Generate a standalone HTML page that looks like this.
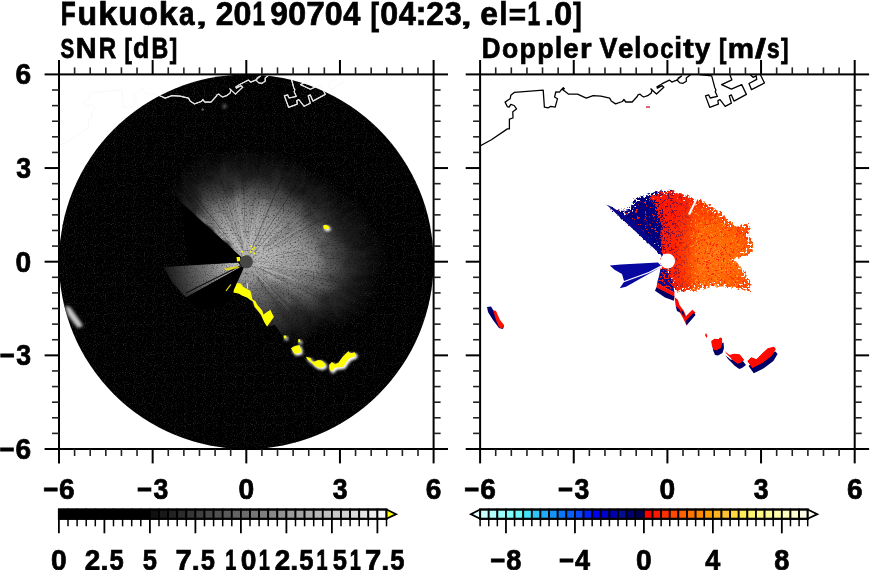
<!DOCTYPE html>
<html><head><meta charset="utf-8"><style>
html,body{margin:0;padding:0;background:#fff;width:870px;height:570px;overflow:hidden}
svg{display:block;will-change:transform}
text{font-family:"Liberation Sans",sans-serif;font-weight:bold;fill:#000}
</style></head><body>
<svg width="870" height="570" viewBox="0 0 870 570">
<defs>
<clipPath id="frameL"><rect x="59" y="74.4" width="374.6" height="374.6"/></clipPath>
<clipPath id="frameR"><rect x="480.1" y="74.4" width="374.6" height="374.6"/></clipPath>
<clipPath id="diskL"><circle cx="246.30" cy="261.75" r="187.30"/></clipPath>
<filter id="speck" x="0" y="0" width="100%" height="100%" color-interpolation-filters="sRGB">
  <feTurbulence type="fractalNoise" baseFrequency="0.9 0.9" numOctaves="1" seed="3" result="t"/>
  <feColorMatrix in="t" type="matrix" values="0 0 0 0 0.16  0 0 0 0 0.16  0 0 0 0 0.16  4 0 0 0 -2.2"/>
</filter>
<filter id="fantex" x="-10%" y="-10%" width="120%" height="120%" color-interpolation-filters="sRGB">
  <feTurbulence type="fractalNoise" baseFrequency="0.06" numOctaves="2" seed="5" result="lt"/>
  <feDisplacementMap in="SourceGraphic" in2="lt" scale="16" xChannelSelector="R" yChannelSelector="G" result="d"/>
  <feGaussianBlur in="d" stdDeviation="1.5" result="b"/>
  <feTurbulence type="fractalNoise" baseFrequency="0.6 0.6" numOctaves="2" seed="11" result="n"/>
  <feColorMatrix in="n" type="matrix" values="1.3 0 0 0 0.35  1.3 0 0 0 0.35  1.3 0 0 0 0.35  0 0 0 0 1" result="nm"/>
  <feComposite in="b" in2="nm" operator="arithmetic" k1="1" k2="0" k3="0" k4="0"/>
</filter>
<filter id="glow" x="-50%" y="-50%" width="200%" height="200%"><feGaussianBlur stdDeviation="1.5"/></filter>
<radialGradient id="fanG" gradientUnits="userSpaceOnUse" cx="276" cy="276" fx="246.30" fy="261.75" r="130">
  <stop offset="0.000" stop-color="#b4b4b4"/>
  <stop offset="0.080" stop-color="#a5a5a5"/>
  <stop offset="0.220" stop-color="#8e8e8e"/>
  <stop offset="0.380" stop-color="#6e6e6e"/>
  <stop offset="0.520" stop-color="#505050"/>
  <stop offset="0.670" stop-color="#343434"/>
  <stop offset="0.820" stop-color="#1a1a1a"/>
  <stop offset="1.000" stop-color="#000000"/>
</radialGradient>
<radialGradient id="spikeG" gradientUnits="userSpaceOnUse" cx="246.30" cy="261.75" r="86">
  <stop offset="0" stop-color="#d0d0d0"/>
  <stop offset="0.2" stop-color="#b0b0b0"/>
  <stop offset="0.5" stop-color="#707070"/>
  <stop offset="0.8" stop-color="#343434"/>
  <stop offset="1" stop-color="#101010"/>
</radialGradient>
<filter id="tex2" x="0" y="0" width="100%" height="100%" color-interpolation-filters="sRGB">
  <feTurbulence type="fractalNoise" baseFrequency="0.9" numOctaves="2" seed="13" result="n"/>
  <feColorMatrix in="n" type="matrix" values="1.3 0 0 0 0.35  1.3 0 0 0 0.35  1.3 0 0 0 0.35  0 0 0 0 1" result="nm"/>
  <feComposite in="SourceGraphic" in2="nm" operator="arithmetic" k1="1" k2="0" k3="0" k4="0"/>
</filter>
<radialGradient id="orG" gradientUnits="userSpaceOnUse" cx="712" cy="258" r="58">
  <stop offset="0" stop-color="#ff7410"/>
  <stop offset="0.5" stop-color="#ff6200"/>
  <stop offset="0.85" stop-color="#ff4400"/>
  <stop offset="1" stop-color="#ff2a00"/>
</radialGradient>
</defs>
<defs><radialGradient id="fw0" gradientUnits="userSpaceOnUse" cx="246.3" cy="261.75" r="72.0"><stop offset="0.000" stop-color="#cdcdcd" stop-opacity="1.000"/><stop offset="0.083" stop-color="#b4b4b4" stop-opacity="1.000"/><stop offset="0.250" stop-color="#828282" stop-opacity="1.000"/><stop offset="0.375" stop-color="#646464" stop-opacity="1.000"/><stop offset="0.458" stop-color="#555555" stop-opacity="1.000"/><stop offset="0.542" stop-color="#444444" stop-opacity="1.000"/><stop offset="0.625" stop-color="#343434" stop-opacity="1.000"/><stop offset="0.708" stop-color="#282828" stop-opacity="0.950"/><stop offset="0.792" stop-color="#282828" stop-opacity="0.650"/><stop offset="0.875" stop-color="#282828" stop-opacity="0.350"/><stop offset="1.000" stop-color="#282828" stop-opacity="0.000"/></radialGradient><radialGradient id="fw1" gradientUnits="userSpaceOnUse" cx="246.3" cy="261.75" r="75.0"><stop offset="0.000" stop-color="#cdcdcd" stop-opacity="1.000"/><stop offset="0.083" stop-color="#b4b4b4" stop-opacity="1.000"/><stop offset="0.250" stop-color="#828282" stop-opacity="1.000"/><stop offset="0.375" stop-color="#646464" stop-opacity="1.000"/><stop offset="0.458" stop-color="#555555" stop-opacity="1.000"/><stop offset="0.542" stop-color="#444444" stop-opacity="1.000"/><stop offset="0.625" stop-color="#343434" stop-opacity="1.000"/><stop offset="0.708" stop-color="#282828" stop-opacity="0.950"/><stop offset="0.792" stop-color="#282828" stop-opacity="0.650"/><stop offset="0.875" stop-color="#282828" stop-opacity="0.350"/><stop offset="1.000" stop-color="#282828" stop-opacity="0.000"/></radialGradient><radialGradient id="fw2" gradientUnits="userSpaceOnUse" cx="246.3" cy="261.75" r="78.3"><stop offset="0.000" stop-color="#cdcdcd" stop-opacity="1.000"/><stop offset="0.083" stop-color="#b4b4b4" stop-opacity="1.000"/><stop offset="0.250" stop-color="#828282" stop-opacity="1.000"/><stop offset="0.375" stop-color="#646464" stop-opacity="1.000"/><stop offset="0.458" stop-color="#555555" stop-opacity="1.000"/><stop offset="0.542" stop-color="#444444" stop-opacity="1.000"/><stop offset="0.625" stop-color="#343434" stop-opacity="1.000"/><stop offset="0.708" stop-color="#282828" stop-opacity="0.950"/><stop offset="0.792" stop-color="#282828" stop-opacity="0.650"/><stop offset="0.875" stop-color="#282828" stop-opacity="0.350"/><stop offset="1.000" stop-color="#282828" stop-opacity="0.000"/></radialGradient><radialGradient id="fw3" gradientUnits="userSpaceOnUse" cx="246.3" cy="261.75" r="81.7"><stop offset="0.000" stop-color="#cdcdcd" stop-opacity="1.000"/><stop offset="0.083" stop-color="#b4b4b4" stop-opacity="1.000"/><stop offset="0.250" stop-color="#828282" stop-opacity="1.000"/><stop offset="0.375" stop-color="#646464" stop-opacity="1.000"/><stop offset="0.458" stop-color="#555555" stop-opacity="1.000"/><stop offset="0.542" stop-color="#444444" stop-opacity="1.000"/><stop offset="0.625" stop-color="#343434" stop-opacity="1.000"/><stop offset="0.708" stop-color="#282828" stop-opacity="0.950"/><stop offset="0.792" stop-color="#282828" stop-opacity="0.650"/><stop offset="0.875" stop-color="#282828" stop-opacity="0.350"/><stop offset="1.000" stop-color="#282828" stop-opacity="0.000"/></radialGradient><radialGradient id="fw4" gradientUnits="userSpaceOnUse" cx="246.3" cy="261.75" r="85.0"><stop offset="0.000" stop-color="#cdcdcd" stop-opacity="1.000"/><stop offset="0.083" stop-color="#b4b4b4" stop-opacity="1.000"/><stop offset="0.250" stop-color="#828282" stop-opacity="1.000"/><stop offset="0.375" stop-color="#646464" stop-opacity="1.000"/><stop offset="0.458" stop-color="#555555" stop-opacity="1.000"/><stop offset="0.542" stop-color="#444444" stop-opacity="1.000"/><stop offset="0.625" stop-color="#343434" stop-opacity="1.000"/><stop offset="0.708" stop-color="#282828" stop-opacity="0.950"/><stop offset="0.792" stop-color="#282828" stop-opacity="0.650"/><stop offset="0.875" stop-color="#282828" stop-opacity="0.350"/><stop offset="1.000" stop-color="#282828" stop-opacity="0.000"/></radialGradient><radialGradient id="fw5" gradientUnits="userSpaceOnUse" cx="246.3" cy="261.75" r="88.3"><stop offset="0.000" stop-color="#cdcdcd" stop-opacity="1.000"/><stop offset="0.083" stop-color="#b4b4b4" stop-opacity="1.000"/><stop offset="0.250" stop-color="#828282" stop-opacity="1.000"/><stop offset="0.375" stop-color="#646464" stop-opacity="1.000"/><stop offset="0.458" stop-color="#555555" stop-opacity="1.000"/><stop offset="0.542" stop-color="#444444" stop-opacity="1.000"/><stop offset="0.625" stop-color="#343434" stop-opacity="1.000"/><stop offset="0.708" stop-color="#282828" stop-opacity="0.950"/><stop offset="0.792" stop-color="#282828" stop-opacity="0.650"/><stop offset="0.875" stop-color="#282828" stop-opacity="0.350"/><stop offset="1.000" stop-color="#282828" stop-opacity="0.000"/></radialGradient><radialGradient id="fw6" gradientUnits="userSpaceOnUse" cx="246.3" cy="261.75" r="90.8"><stop offset="0.000" stop-color="#cdcdcd" stop-opacity="1.000"/><stop offset="0.083" stop-color="#b4b4b4" stop-opacity="1.000"/><stop offset="0.250" stop-color="#828282" stop-opacity="1.000"/><stop offset="0.375" stop-color="#646464" stop-opacity="1.000"/><stop offset="0.458" stop-color="#555555" stop-opacity="1.000"/><stop offset="0.542" stop-color="#444444" stop-opacity="1.000"/><stop offset="0.625" stop-color="#343434" stop-opacity="1.000"/><stop offset="0.708" stop-color="#282828" stop-opacity="0.950"/><stop offset="0.792" stop-color="#282828" stop-opacity="0.650"/><stop offset="0.875" stop-color="#282828" stop-opacity="0.350"/><stop offset="1.000" stop-color="#282828" stop-opacity="0.000"/></radialGradient><radialGradient id="fw7" gradientUnits="userSpaceOnUse" cx="246.3" cy="261.75" r="92.5"><stop offset="0.000" stop-color="#cdcdcd" stop-opacity="1.000"/><stop offset="0.083" stop-color="#b4b4b4" stop-opacity="1.000"/><stop offset="0.250" stop-color="#828282" stop-opacity="1.000"/><stop offset="0.375" stop-color="#646464" stop-opacity="1.000"/><stop offset="0.458" stop-color="#555555" stop-opacity="1.000"/><stop offset="0.542" stop-color="#444444" stop-opacity="1.000"/><stop offset="0.625" stop-color="#343434" stop-opacity="1.000"/><stop offset="0.708" stop-color="#282828" stop-opacity="0.950"/><stop offset="0.792" stop-color="#282828" stop-opacity="0.650"/><stop offset="0.875" stop-color="#282828" stop-opacity="0.350"/><stop offset="1.000" stop-color="#282828" stop-opacity="0.000"/></radialGradient><radialGradient id="fw8" gradientUnits="userSpaceOnUse" cx="246.3" cy="261.75" r="94.2"><stop offset="0.000" stop-color="#cdcdcd" stop-opacity="1.000"/><stop offset="0.083" stop-color="#b4b4b4" stop-opacity="1.000"/><stop offset="0.250" stop-color="#828282" stop-opacity="1.000"/><stop offset="0.375" stop-color="#646464" stop-opacity="1.000"/><stop offset="0.458" stop-color="#555555" stop-opacity="1.000"/><stop offset="0.542" stop-color="#444444" stop-opacity="1.000"/><stop offset="0.625" stop-color="#343434" stop-opacity="1.000"/><stop offset="0.708" stop-color="#282828" stop-opacity="0.950"/><stop offset="0.792" stop-color="#282828" stop-opacity="0.650"/><stop offset="0.875" stop-color="#282828" stop-opacity="0.350"/><stop offset="1.000" stop-color="#282828" stop-opacity="0.000"/></radialGradient><radialGradient id="fw9" gradientUnits="userSpaceOnUse" cx="246.3" cy="261.75" r="95.9"><stop offset="0.000" stop-color="#cdcdcd" stop-opacity="1.000"/><stop offset="0.083" stop-color="#b4b4b4" stop-opacity="1.000"/><stop offset="0.250" stop-color="#828282" stop-opacity="1.000"/><stop offset="0.375" stop-color="#646464" stop-opacity="1.000"/><stop offset="0.458" stop-color="#555555" stop-opacity="1.000"/><stop offset="0.542" stop-color="#444444" stop-opacity="1.000"/><stop offset="0.625" stop-color="#343434" stop-opacity="1.000"/><stop offset="0.708" stop-color="#282828" stop-opacity="0.950"/><stop offset="0.792" stop-color="#282828" stop-opacity="0.650"/><stop offset="0.875" stop-color="#282828" stop-opacity="0.350"/><stop offset="1.000" stop-color="#282828" stop-opacity="0.000"/></radialGradient><radialGradient id="fw10" gradientUnits="userSpaceOnUse" cx="246.3" cy="261.75" r="97.6"><stop offset="0.000" stop-color="#cdcdcd" stop-opacity="1.000"/><stop offset="0.083" stop-color="#b4b4b4" stop-opacity="1.000"/><stop offset="0.250" stop-color="#828282" stop-opacity="1.000"/><stop offset="0.375" stop-color="#646464" stop-opacity="1.000"/><stop offset="0.458" stop-color="#555555" stop-opacity="1.000"/><stop offset="0.542" stop-color="#444444" stop-opacity="1.000"/><stop offset="0.625" stop-color="#343434" stop-opacity="1.000"/><stop offset="0.708" stop-color="#282828" stop-opacity="0.950"/><stop offset="0.792" stop-color="#282828" stop-opacity="0.650"/><stop offset="0.875" stop-color="#282828" stop-opacity="0.350"/><stop offset="1.000" stop-color="#282828" stop-opacity="0.000"/></radialGradient><radialGradient id="fw11" gradientUnits="userSpaceOnUse" cx="246.3" cy="261.75" r="99.0"><stop offset="0.000" stop-color="#cdcdcd" stop-opacity="1.000"/><stop offset="0.083" stop-color="#b4b4b4" stop-opacity="1.000"/><stop offset="0.250" stop-color="#828282" stop-opacity="1.000"/><stop offset="0.375" stop-color="#646464" stop-opacity="1.000"/><stop offset="0.458" stop-color="#555555" stop-opacity="1.000"/><stop offset="0.542" stop-color="#444444" stop-opacity="1.000"/><stop offset="0.625" stop-color="#343434" stop-opacity="1.000"/><stop offset="0.708" stop-color="#282828" stop-opacity="0.950"/><stop offset="0.792" stop-color="#282828" stop-opacity="0.650"/><stop offset="0.875" stop-color="#282828" stop-opacity="0.350"/><stop offset="1.000" stop-color="#282828" stop-opacity="0.000"/></radialGradient><radialGradient id="fw12" gradientUnits="userSpaceOnUse" cx="246.3" cy="261.75" r="100.2"><stop offset="0.000" stop-color="#cdcdcd" stop-opacity="1.000"/><stop offset="0.083" stop-color="#b4b4b4" stop-opacity="1.000"/><stop offset="0.250" stop-color="#828282" stop-opacity="1.000"/><stop offset="0.375" stop-color="#646464" stop-opacity="1.000"/><stop offset="0.458" stop-color="#555555" stop-opacity="1.000"/><stop offset="0.542" stop-color="#444444" stop-opacity="1.000"/><stop offset="0.625" stop-color="#343434" stop-opacity="1.000"/><stop offset="0.708" stop-color="#282828" stop-opacity="0.950"/><stop offset="0.792" stop-color="#282828" stop-opacity="0.650"/><stop offset="0.875" stop-color="#282828" stop-opacity="0.350"/><stop offset="1.000" stop-color="#282828" stop-opacity="0.000"/></radialGradient><radialGradient id="fw13" gradientUnits="userSpaceOnUse" cx="246.3" cy="261.75" r="101.4"><stop offset="0.000" stop-color="#cdcdcd" stop-opacity="1.000"/><stop offset="0.083" stop-color="#b4b4b4" stop-opacity="1.000"/><stop offset="0.250" stop-color="#828282" stop-opacity="1.000"/><stop offset="0.375" stop-color="#646464" stop-opacity="1.000"/><stop offset="0.458" stop-color="#555555" stop-opacity="1.000"/><stop offset="0.542" stop-color="#444444" stop-opacity="1.000"/><stop offset="0.625" stop-color="#343434" stop-opacity="1.000"/><stop offset="0.708" stop-color="#282828" stop-opacity="0.950"/><stop offset="0.792" stop-color="#282828" stop-opacity="0.650"/><stop offset="0.875" stop-color="#282828" stop-opacity="0.350"/><stop offset="1.000" stop-color="#282828" stop-opacity="0.000"/></radialGradient><radialGradient id="fw14" gradientUnits="userSpaceOnUse" cx="246.3" cy="261.75" r="102.6"><stop offset="0.000" stop-color="#cdcdcd" stop-opacity="1.000"/><stop offset="0.083" stop-color="#b4b4b4" stop-opacity="1.000"/><stop offset="0.250" stop-color="#828282" stop-opacity="1.000"/><stop offset="0.375" stop-color="#646464" stop-opacity="1.000"/><stop offset="0.458" stop-color="#555555" stop-opacity="1.000"/><stop offset="0.542" stop-color="#444444" stop-opacity="1.000"/><stop offset="0.625" stop-color="#343434" stop-opacity="1.000"/><stop offset="0.708" stop-color="#282828" stop-opacity="0.950"/><stop offset="0.792" stop-color="#282828" stop-opacity="0.650"/><stop offset="0.875" stop-color="#282828" stop-opacity="0.350"/><stop offset="1.000" stop-color="#282828" stop-opacity="0.000"/></radialGradient><radialGradient id="fw15" gradientUnits="userSpaceOnUse" cx="246.3" cy="261.75" r="106.3"><stop offset="0.000" stop-color="#cdcdcd" stop-opacity="1.000"/><stop offset="0.083" stop-color="#b5b5b5" stop-opacity="1.000"/><stop offset="0.250" stop-color="#858585" stop-opacity="1.000"/><stop offset="0.375" stop-color="#686868" stop-opacity="1.000"/><stop offset="0.458" stop-color="#585858" stop-opacity="1.000"/><stop offset="0.542" stop-color="#474747" stop-opacity="1.000"/><stop offset="0.625" stop-color="#353535" stop-opacity="1.000"/><stop offset="0.708" stop-color="#282828" stop-opacity="0.961"/><stop offset="0.792" stop-color="#282828" stop-opacity="0.646"/><stop offset="0.875" stop-color="#282828" stop-opacity="0.346"/><stop offset="1.000" stop-color="#282828" stop-opacity="0.000"/></radialGradient><radialGradient id="fw16" gradientUnits="userSpaceOnUse" cx="246.3" cy="261.75" r="112.6"><stop offset="0.000" stop-color="#cdcdcd" stop-opacity="1.000"/><stop offset="0.083" stop-color="#b7b7b7" stop-opacity="1.000"/><stop offset="0.250" stop-color="#8b8b8b" stop-opacity="1.000"/><stop offset="0.375" stop-color="#707070" stop-opacity="1.000"/><stop offset="0.458" stop-color="#606060" stop-opacity="1.000"/><stop offset="0.542" stop-color="#4d4d4d" stop-opacity="1.000"/><stop offset="0.625" stop-color="#383838" stop-opacity="1.000"/><stop offset="0.708" stop-color="#282828" stop-opacity="0.982"/><stop offset="0.792" stop-color="#282828" stop-opacity="0.639"/><stop offset="0.875" stop-color="#282828" stop-opacity="0.339"/><stop offset="1.000" stop-color="#282828" stop-opacity="0.000"/></radialGradient><radialGradient id="fw17" gradientUnits="userSpaceOnUse" cx="246.3" cy="261.75" r="118.8"><stop offset="0.000" stop-color="#cdcdcd" stop-opacity="1.000"/><stop offset="0.083" stop-color="#b9b9b9" stop-opacity="1.000"/><stop offset="0.250" stop-color="#919191" stop-opacity="1.000"/><stop offset="0.375" stop-color="#787878" stop-opacity="1.000"/><stop offset="0.458" stop-color="#686868" stop-opacity="1.000"/><stop offset="0.542" stop-color="#535353" stop-opacity="1.000"/><stop offset="0.625" stop-color="#3b3b3b" stop-opacity="1.000"/><stop offset="0.708" stop-color="#282828" stop-opacity="1.000"/><stop offset="0.792" stop-color="#282828" stop-opacity="0.632"/><stop offset="0.875" stop-color="#282828" stop-opacity="0.332"/><stop offset="1.000" stop-color="#282828" stop-opacity="0.000"/></radialGradient><radialGradient id="fw18" gradientUnits="userSpaceOnUse" cx="246.3" cy="261.75" r="125.0"><stop offset="0.000" stop-color="#cdcdcd" stop-opacity="1.000"/><stop offset="0.083" stop-color="#bbbbbb" stop-opacity="1.000"/><stop offset="0.250" stop-color="#989898" stop-opacity="1.000"/><stop offset="0.375" stop-color="#818181" stop-opacity="1.000"/><stop offset="0.458" stop-color="#707070" stop-opacity="1.000"/><stop offset="0.542" stop-color="#595959" stop-opacity="1.000"/><stop offset="0.625" stop-color="#3f3f3f" stop-opacity="1.000"/><stop offset="0.708" stop-color="#292929" stop-opacity="1.000"/><stop offset="0.792" stop-color="#282828" stop-opacity="0.625"/><stop offset="0.875" stop-color="#282828" stop-opacity="0.325"/><stop offset="1.000" stop-color="#282828" stop-opacity="0.000"/></radialGradient><radialGradient id="fw19" gradientUnits="userSpaceOnUse" cx="246.3" cy="261.75" r="131.3"><stop offset="0.000" stop-color="#cdcdcd" stop-opacity="1.000"/><stop offset="0.083" stop-color="#bdbdbd" stop-opacity="1.000"/><stop offset="0.250" stop-color="#9e9e9e" stop-opacity="1.000"/><stop offset="0.375" stop-color="#898989" stop-opacity="1.000"/><stop offset="0.458" stop-color="#787878" stop-opacity="1.000"/><stop offset="0.542" stop-color="#5f5f5f" stop-opacity="1.000"/><stop offset="0.625" stop-color="#424242" stop-opacity="1.000"/><stop offset="0.708" stop-color="#292929" stop-opacity="1.000"/><stop offset="0.792" stop-color="#282828" stop-opacity="0.618"/><stop offset="0.875" stop-color="#282828" stop-opacity="0.318"/><stop offset="1.000" stop-color="#282828" stop-opacity="0.000"/></radialGradient><radialGradient id="fw20" gradientUnits="userSpaceOnUse" cx="246.3" cy="261.75" r="135.6"><stop offset="0.000" stop-color="#cccccc" stop-opacity="1.000"/><stop offset="0.083" stop-color="#bfbfbf" stop-opacity="1.000"/><stop offset="0.250" stop-color="#a4a4a4" stop-opacity="1.000"/><stop offset="0.375" stop-color="#919191" stop-opacity="1.000"/><stop offset="0.458" stop-color="#808080" stop-opacity="1.000"/><stop offset="0.542" stop-color="#656565" stop-opacity="1.000"/><stop offset="0.625" stop-color="#454545" stop-opacity="1.000"/><stop offset="0.708" stop-color="#2a2a2a" stop-opacity="1.000"/><stop offset="0.792" stop-color="#282828" stop-opacity="0.611"/><stop offset="0.875" stop-color="#282828" stop-opacity="0.311"/><stop offset="1.000" stop-color="#282828" stop-opacity="0.000"/></radialGradient><radialGradient id="fw21" gradientUnits="userSpaceOnUse" cx="246.3" cy="261.75" r="138.0"><stop offset="0.000" stop-color="#cdcdcd" stop-opacity="1.000"/><stop offset="0.083" stop-color="#c1c1c1" stop-opacity="1.000"/><stop offset="0.250" stop-color="#aaaaaa" stop-opacity="1.000"/><stop offset="0.375" stop-color="#999999" stop-opacity="1.000"/><stop offset="0.458" stop-color="#888888" stop-opacity="1.000"/><stop offset="0.542" stop-color="#6b6b6b" stop-opacity="1.000"/><stop offset="0.625" stop-color="#484848" stop-opacity="1.000"/><stop offset="0.708" stop-color="#2b2b2b" stop-opacity="1.000"/><stop offset="0.792" stop-color="#282828" stop-opacity="0.604"/><stop offset="0.875" stop-color="#282828" stop-opacity="0.304"/><stop offset="1.000" stop-color="#282828" stop-opacity="0.000"/></radialGradient><radialGradient id="fw22" gradientUnits="userSpaceOnUse" cx="246.3" cy="261.75" r="140.4"><stop offset="0.000" stop-color="#cdcdcd" stop-opacity="1.000"/><stop offset="0.083" stop-color="#c2c2c2" stop-opacity="1.000"/><stop offset="0.250" stop-color="#aeaeae" stop-opacity="1.000"/><stop offset="0.375" stop-color="#9e9e9e" stop-opacity="1.000"/><stop offset="0.458" stop-color="#8c8c8c" stop-opacity="1.000"/><stop offset="0.542" stop-color="#6e6e6e" stop-opacity="1.000"/><stop offset="0.625" stop-color="#4a4a4a" stop-opacity="1.000"/><stop offset="0.708" stop-color="#2c2c2c" stop-opacity="1.000"/><stop offset="0.792" stop-color="#282828" stop-opacity="0.600"/><stop offset="0.875" stop-color="#282828" stop-opacity="0.300"/><stop offset="1.000" stop-color="#282828" stop-opacity="0.000"/></radialGradient><radialGradient id="fw23" gradientUnits="userSpaceOnUse" cx="246.3" cy="261.75" r="142.8"><stop offset="0.000" stop-color="#cdcdcd" stop-opacity="1.000"/><stop offset="0.083" stop-color="#c2c2c2" stop-opacity="1.000"/><stop offset="0.250" stop-color="#aeaeae" stop-opacity="1.000"/><stop offset="0.375" stop-color="#9e9e9e" stop-opacity="1.000"/><stop offset="0.458" stop-color="#8c8c8c" stop-opacity="1.000"/><stop offset="0.542" stop-color="#6e6e6e" stop-opacity="1.000"/><stop offset="0.625" stop-color="#4a4a4a" stop-opacity="1.000"/><stop offset="0.708" stop-color="#2c2c2c" stop-opacity="1.000"/><stop offset="0.792" stop-color="#282828" stop-opacity="0.600"/><stop offset="0.875" stop-color="#282828" stop-opacity="0.300"/><stop offset="1.000" stop-color="#282828" stop-opacity="0.000"/></radialGradient><radialGradient id="fw24" gradientUnits="userSpaceOnUse" cx="246.3" cy="261.75" r="142.5"><stop offset="0.000" stop-color="#cdcdcd" stop-opacity="1.000"/><stop offset="0.083" stop-color="#c2c2c2" stop-opacity="1.000"/><stop offset="0.250" stop-color="#aeaeae" stop-opacity="1.000"/><stop offset="0.375" stop-color="#9e9e9e" stop-opacity="1.000"/><stop offset="0.458" stop-color="#8c8c8c" stop-opacity="1.000"/><stop offset="0.542" stop-color="#6e6e6e" stop-opacity="1.000"/><stop offset="0.625" stop-color="#4a4a4a" stop-opacity="1.000"/><stop offset="0.708" stop-color="#2c2c2c" stop-opacity="1.000"/><stop offset="0.792" stop-color="#282828" stop-opacity="0.600"/><stop offset="0.875" stop-color="#282828" stop-opacity="0.300"/><stop offset="1.000" stop-color="#282828" stop-opacity="0.000"/></radialGradient><radialGradient id="fw25" gradientUnits="userSpaceOnUse" cx="246.3" cy="261.75" r="139.5"><stop offset="0.000" stop-color="#cdcdcd" stop-opacity="1.000"/><stop offset="0.083" stop-color="#c2c2c2" stop-opacity="1.000"/><stop offset="0.250" stop-color="#aeaeae" stop-opacity="1.000"/><stop offset="0.375" stop-color="#9e9e9e" stop-opacity="1.000"/><stop offset="0.458" stop-color="#8c8c8c" stop-opacity="1.000"/><stop offset="0.542" stop-color="#6e6e6e" stop-opacity="1.000"/><stop offset="0.625" stop-color="#4a4a4a" stop-opacity="1.000"/><stop offset="0.708" stop-color="#2c2c2c" stop-opacity="1.000"/><stop offset="0.792" stop-color="#282828" stop-opacity="0.600"/><stop offset="0.875" stop-color="#282828" stop-opacity="0.300"/><stop offset="1.000" stop-color="#282828" stop-opacity="0.000"/></radialGradient><radialGradient id="fw26" gradientUnits="userSpaceOnUse" cx="246.3" cy="261.75" r="136.5"><stop offset="0.000" stop-color="#cdcdcd" stop-opacity="1.000"/><stop offset="0.083" stop-color="#c2c2c2" stop-opacity="1.000"/><stop offset="0.250" stop-color="#aeaeae" stop-opacity="1.000"/><stop offset="0.375" stop-color="#9e9e9e" stop-opacity="1.000"/><stop offset="0.458" stop-color="#8c8c8c" stop-opacity="1.000"/><stop offset="0.542" stop-color="#6e6e6e" stop-opacity="1.000"/><stop offset="0.625" stop-color="#4a4a4a" stop-opacity="1.000"/><stop offset="0.708" stop-color="#2c2c2c" stop-opacity="1.000"/><stop offset="0.792" stop-color="#282828" stop-opacity="0.600"/><stop offset="0.875" stop-color="#282828" stop-opacity="0.300"/><stop offset="1.000" stop-color="#282828" stop-opacity="0.000"/></radialGradient><radialGradient id="fw27" gradientUnits="userSpaceOnUse" cx="246.3" cy="261.75" r="133.5"><stop offset="0.000" stop-color="#cdcdcd" stop-opacity="1.000"/><stop offset="0.083" stop-color="#c2c2c2" stop-opacity="1.000"/><stop offset="0.250" stop-color="#aeaeae" stop-opacity="1.000"/><stop offset="0.375" stop-color="#9e9e9e" stop-opacity="1.000"/><stop offset="0.458" stop-color="#8c8c8c" stop-opacity="1.000"/><stop offset="0.542" stop-color="#6e6e6e" stop-opacity="1.000"/><stop offset="0.625" stop-color="#4a4a4a" stop-opacity="1.000"/><stop offset="0.708" stop-color="#2c2c2c" stop-opacity="1.000"/><stop offset="0.792" stop-color="#282828" stop-opacity="0.600"/><stop offset="0.875" stop-color="#282828" stop-opacity="0.300"/><stop offset="1.000" stop-color="#282828" stop-opacity="0.000"/></radialGradient><radialGradient id="fw28" gradientUnits="userSpaceOnUse" cx="246.3" cy="261.75" r="130.6"><stop offset="0.000" stop-color="#cdcdcd" stop-opacity="1.000"/><stop offset="0.083" stop-color="#c2c2c2" stop-opacity="1.000"/><stop offset="0.250" stop-color="#aeaeae" stop-opacity="1.000"/><stop offset="0.375" stop-color="#9e9e9e" stop-opacity="1.000"/><stop offset="0.458" stop-color="#8c8c8c" stop-opacity="1.000"/><stop offset="0.542" stop-color="#6e6e6e" stop-opacity="1.000"/><stop offset="0.625" stop-color="#4a4a4a" stop-opacity="1.000"/><stop offset="0.708" stop-color="#2c2c2c" stop-opacity="1.000"/><stop offset="0.792" stop-color="#282828" stop-opacity="0.600"/><stop offset="0.875" stop-color="#282828" stop-opacity="0.300"/><stop offset="1.000" stop-color="#282828" stop-opacity="0.000"/></radialGradient><radialGradient id="fw29" gradientUnits="userSpaceOnUse" cx="246.3" cy="261.75" r="127.7"><stop offset="0.000" stop-color="#cdcdcd" stop-opacity="1.000"/><stop offset="0.083" stop-color="#c2c2c2" stop-opacity="1.000"/><stop offset="0.250" stop-color="#aeaeae" stop-opacity="1.000"/><stop offset="0.375" stop-color="#9e9e9e" stop-opacity="1.000"/><stop offset="0.458" stop-color="#8c8c8c" stop-opacity="1.000"/><stop offset="0.542" stop-color="#6e6e6e" stop-opacity="1.000"/><stop offset="0.625" stop-color="#4a4a4a" stop-opacity="1.000"/><stop offset="0.708" stop-color="#2c2c2c" stop-opacity="1.000"/><stop offset="0.792" stop-color="#282828" stop-opacity="0.600"/><stop offset="0.875" stop-color="#282828" stop-opacity="0.300"/><stop offset="1.000" stop-color="#282828" stop-opacity="0.000"/></radialGradient><radialGradient id="fw30" gradientUnits="userSpaceOnUse" cx="246.3" cy="261.75" r="124.8"><stop offset="0.000" stop-color="#cdcdcd" stop-opacity="1.000"/><stop offset="0.083" stop-color="#c2c2c2" stop-opacity="1.000"/><stop offset="0.250" stop-color="#aeaeae" stop-opacity="1.000"/><stop offset="0.375" stop-color="#9e9e9e" stop-opacity="1.000"/><stop offset="0.458" stop-color="#8c8c8c" stop-opacity="1.000"/><stop offset="0.542" stop-color="#6e6e6e" stop-opacity="1.000"/><stop offset="0.625" stop-color="#4a4a4a" stop-opacity="1.000"/><stop offset="0.708" stop-color="#2c2c2c" stop-opacity="1.000"/><stop offset="0.792" stop-color="#282828" stop-opacity="0.600"/><stop offset="0.875" stop-color="#282828" stop-opacity="0.300"/><stop offset="1.000" stop-color="#282828" stop-opacity="0.000"/></radialGradient><radialGradient id="fw31" gradientUnits="userSpaceOnUse" cx="246.3" cy="261.75" r="121.9"><stop offset="0.000" stop-color="#cdcdcd" stop-opacity="1.000"/><stop offset="0.083" stop-color="#c2c2c2" stop-opacity="1.000"/><stop offset="0.250" stop-color="#aeaeae" stop-opacity="1.000"/><stop offset="0.375" stop-color="#9e9e9e" stop-opacity="1.000"/><stop offset="0.458" stop-color="#8c8c8c" stop-opacity="1.000"/><stop offset="0.542" stop-color="#6e6e6e" stop-opacity="1.000"/><stop offset="0.625" stop-color="#4a4a4a" stop-opacity="1.000"/><stop offset="0.708" stop-color="#2c2c2c" stop-opacity="1.000"/><stop offset="0.792" stop-color="#282828" stop-opacity="0.600"/><stop offset="0.875" stop-color="#282828" stop-opacity="0.300"/><stop offset="1.000" stop-color="#282828" stop-opacity="0.000"/></radialGradient><radialGradient id="fw32" gradientUnits="userSpaceOnUse" cx="246.3" cy="261.75" r="119.0"><stop offset="0.000" stop-color="#cdcdcd" stop-opacity="1.000"/><stop offset="0.083" stop-color="#c2c2c2" stop-opacity="1.000"/><stop offset="0.250" stop-color="#aeaeae" stop-opacity="1.000"/><stop offset="0.375" stop-color="#9e9e9e" stop-opacity="1.000"/><stop offset="0.458" stop-color="#8c8c8c" stop-opacity="1.000"/><stop offset="0.542" stop-color="#6e6e6e" stop-opacity="1.000"/><stop offset="0.625" stop-color="#4a4a4a" stop-opacity="1.000"/><stop offset="0.708" stop-color="#2c2c2c" stop-opacity="1.000"/><stop offset="0.792" stop-color="#282828" stop-opacity="0.600"/><stop offset="0.875" stop-color="#282828" stop-opacity="0.300"/><stop offset="1.000" stop-color="#282828" stop-opacity="0.000"/></radialGradient><radialGradient id="fw33" gradientUnits="userSpaceOnUse" cx="246.3" cy="261.75" r="117.2"><stop offset="0.000" stop-color="#cdcdcd" stop-opacity="1.000"/><stop offset="0.083" stop-color="#c2c2c2" stop-opacity="1.000"/><stop offset="0.250" stop-color="#aeaeae" stop-opacity="1.000"/><stop offset="0.375" stop-color="#9e9e9e" stop-opacity="1.000"/><stop offset="0.458" stop-color="#8c8c8c" stop-opacity="1.000"/><stop offset="0.542" stop-color="#6e6e6e" stop-opacity="1.000"/><stop offset="0.625" stop-color="#4a4a4a" stop-opacity="1.000"/><stop offset="0.708" stop-color="#2c2c2c" stop-opacity="1.000"/><stop offset="0.792" stop-color="#282828" stop-opacity="0.600"/><stop offset="0.875" stop-color="#282828" stop-opacity="0.300"/><stop offset="1.000" stop-color="#282828" stop-opacity="0.000"/></radialGradient><radialGradient id="fw34" gradientUnits="userSpaceOnUse" cx="246.3" cy="261.75" r="116.4"><stop offset="0.000" stop-color="#cdcdcd" stop-opacity="1.000"/><stop offset="0.083" stop-color="#c2c2c2" stop-opacity="1.000"/><stop offset="0.250" stop-color="#aeaeae" stop-opacity="1.000"/><stop offset="0.375" stop-color="#9e9e9e" stop-opacity="1.000"/><stop offset="0.458" stop-color="#8c8c8c" stop-opacity="1.000"/><stop offset="0.542" stop-color="#6e6e6e" stop-opacity="1.000"/><stop offset="0.625" stop-color="#4a4a4a" stop-opacity="1.000"/><stop offset="0.708" stop-color="#2c2c2c" stop-opacity="1.000"/><stop offset="0.792" stop-color="#282828" stop-opacity="0.600"/><stop offset="0.875" stop-color="#282828" stop-opacity="0.300"/><stop offset="1.000" stop-color="#282828" stop-opacity="0.000"/></radialGradient><radialGradient id="fw35" gradientUnits="userSpaceOnUse" cx="246.3" cy="261.75" r="115.6"><stop offset="0.000" stop-color="#cdcdcd" stop-opacity="1.000"/><stop offset="0.083" stop-color="#c2c2c2" stop-opacity="1.000"/><stop offset="0.250" stop-color="#aeaeae" stop-opacity="1.000"/><stop offset="0.375" stop-color="#9e9e9e" stop-opacity="1.000"/><stop offset="0.458" stop-color="#8c8c8c" stop-opacity="1.000"/><stop offset="0.542" stop-color="#6e6e6e" stop-opacity="1.000"/><stop offset="0.625" stop-color="#4a4a4a" stop-opacity="1.000"/><stop offset="0.708" stop-color="#2c2c2c" stop-opacity="1.000"/><stop offset="0.792" stop-color="#282828" stop-opacity="0.600"/><stop offset="0.875" stop-color="#282828" stop-opacity="0.300"/><stop offset="1.000" stop-color="#282828" stop-opacity="0.000"/></radialGradient><radialGradient id="fw36" gradientUnits="userSpaceOnUse" cx="246.3" cy="261.75" r="115.1"><stop offset="0.000" stop-color="#cdcdcd" stop-opacity="1.000"/><stop offset="0.083" stop-color="#c2c2c2" stop-opacity="1.000"/><stop offset="0.250" stop-color="#aeaeae" stop-opacity="1.000"/><stop offset="0.375" stop-color="#9e9e9e" stop-opacity="1.000"/><stop offset="0.458" stop-color="#8c8c8c" stop-opacity="1.000"/><stop offset="0.542" stop-color="#6e6e6e" stop-opacity="1.000"/><stop offset="0.625" stop-color="#4a4a4a" stop-opacity="1.000"/><stop offset="0.708" stop-color="#2c2c2c" stop-opacity="1.000"/><stop offset="0.792" stop-color="#282828" stop-opacity="0.600"/><stop offset="0.875" stop-color="#282828" stop-opacity="0.300"/><stop offset="1.000" stop-color="#282828" stop-opacity="0.000"/></radialGradient><radialGradient id="fw37" gradientUnits="userSpaceOnUse" cx="246.3" cy="261.75" r="114.9"><stop offset="0.000" stop-color="#cdcdcd" stop-opacity="1.000"/><stop offset="0.083" stop-color="#c2c2c2" stop-opacity="1.000"/><stop offset="0.250" stop-color="#aeaeae" stop-opacity="1.000"/><stop offset="0.375" stop-color="#9e9e9e" stop-opacity="1.000"/><stop offset="0.458" stop-color="#8c8c8c" stop-opacity="1.000"/><stop offset="0.542" stop-color="#6e6e6e" stop-opacity="1.000"/><stop offset="0.625" stop-color="#4a4a4a" stop-opacity="1.000"/><stop offset="0.708" stop-color="#2c2c2c" stop-opacity="1.000"/><stop offset="0.792" stop-color="#282828" stop-opacity="0.600"/><stop offset="0.875" stop-color="#282828" stop-opacity="0.300"/><stop offset="1.000" stop-color="#282828" stop-opacity="0.000"/></radialGradient><radialGradient id="fw38" gradientUnits="userSpaceOnUse" cx="246.3" cy="261.75" r="114.7"><stop offset="0.000" stop-color="#cdcdcd" stop-opacity="1.000"/><stop offset="0.083" stop-color="#c2c2c2" stop-opacity="1.000"/><stop offset="0.250" stop-color="#aeaeae" stop-opacity="1.000"/><stop offset="0.375" stop-color="#9e9e9e" stop-opacity="1.000"/><stop offset="0.458" stop-color="#8c8c8c" stop-opacity="1.000"/><stop offset="0.542" stop-color="#6e6e6e" stop-opacity="1.000"/><stop offset="0.625" stop-color="#4a4a4a" stop-opacity="1.000"/><stop offset="0.708" stop-color="#2c2c2c" stop-opacity="1.000"/><stop offset="0.792" stop-color="#282828" stop-opacity="0.600"/><stop offset="0.875" stop-color="#282828" stop-opacity="0.300"/><stop offset="1.000" stop-color="#282828" stop-opacity="0.000"/></radialGradient><radialGradient id="fw39" gradientUnits="userSpaceOnUse" cx="246.3" cy="261.75" r="114.5"><stop offset="0.000" stop-color="#cdcdcd" stop-opacity="1.000"/><stop offset="0.083" stop-color="#c2c2c2" stop-opacity="1.000"/><stop offset="0.250" stop-color="#aeaeae" stop-opacity="1.000"/><stop offset="0.375" stop-color="#9e9e9e" stop-opacity="1.000"/><stop offset="0.458" stop-color="#8c8c8c" stop-opacity="1.000"/><stop offset="0.542" stop-color="#6e6e6e" stop-opacity="1.000"/><stop offset="0.625" stop-color="#4a4a4a" stop-opacity="1.000"/><stop offset="0.708" stop-color="#2c2c2c" stop-opacity="1.000"/><stop offset="0.792" stop-color="#282828" stop-opacity="0.600"/><stop offset="0.875" stop-color="#282828" stop-opacity="0.300"/><stop offset="1.000" stop-color="#282828" stop-opacity="0.000"/></radialGradient><radialGradient id="fw40" gradientUnits="userSpaceOnUse" cx="246.3" cy="261.75" r="114.3"><stop offset="0.000" stop-color="#cdcdcd" stop-opacity="1.000"/><stop offset="0.083" stop-color="#c2c2c2" stop-opacity="1.000"/><stop offset="0.250" stop-color="#aeaeae" stop-opacity="1.000"/><stop offset="0.375" stop-color="#9e9e9e" stop-opacity="1.000"/><stop offset="0.458" stop-color="#8c8c8c" stop-opacity="1.000"/><stop offset="0.542" stop-color="#6e6e6e" stop-opacity="1.000"/><stop offset="0.625" stop-color="#4a4a4a" stop-opacity="1.000"/><stop offset="0.708" stop-color="#2c2c2c" stop-opacity="1.000"/><stop offset="0.792" stop-color="#282828" stop-opacity="0.600"/><stop offset="0.875" stop-color="#282828" stop-opacity="0.300"/><stop offset="1.000" stop-color="#282828" stop-opacity="0.000"/></radialGradient><radialGradient id="fw41" gradientUnits="userSpaceOnUse" cx="246.3" cy="261.75" r="114.1"><stop offset="0.000" stop-color="#cdcdcd" stop-opacity="1.000"/><stop offset="0.083" stop-color="#c2c2c2" stop-opacity="1.000"/><stop offset="0.250" stop-color="#aeaeae" stop-opacity="1.000"/><stop offset="0.375" stop-color="#9e9e9e" stop-opacity="1.000"/><stop offset="0.458" stop-color="#8c8c8c" stop-opacity="1.000"/><stop offset="0.542" stop-color="#6e6e6e" stop-opacity="1.000"/><stop offset="0.625" stop-color="#4a4a4a" stop-opacity="1.000"/><stop offset="0.708" stop-color="#2c2c2c" stop-opacity="1.000"/><stop offset="0.792" stop-color="#282828" stop-opacity="0.600"/><stop offset="0.875" stop-color="#282828" stop-opacity="0.300"/><stop offset="1.000" stop-color="#282828" stop-opacity="0.000"/></radialGradient><radialGradient id="fw42" gradientUnits="userSpaceOnUse" cx="246.3" cy="261.75" r="114.1"><stop offset="0.000" stop-color="#cdcdcd" stop-opacity="1.000"/><stop offset="0.083" stop-color="#c2c2c2" stop-opacity="1.000"/><stop offset="0.250" stop-color="#aeaeae" stop-opacity="1.000"/><stop offset="0.375" stop-color="#9e9e9e" stop-opacity="1.000"/><stop offset="0.458" stop-color="#8c8c8c" stop-opacity="1.000"/><stop offset="0.542" stop-color="#6e6e6e" stop-opacity="1.000"/><stop offset="0.625" stop-color="#4a4a4a" stop-opacity="1.000"/><stop offset="0.708" stop-color="#2c2c2c" stop-opacity="1.000"/><stop offset="0.792" stop-color="#282828" stop-opacity="0.600"/><stop offset="0.875" stop-color="#282828" stop-opacity="0.300"/><stop offset="1.000" stop-color="#282828" stop-opacity="0.000"/></radialGradient><radialGradient id="fw43" gradientUnits="userSpaceOnUse" cx="246.3" cy="261.75" r="114.3"><stop offset="0.000" stop-color="#cdcdcd" stop-opacity="1.000"/><stop offset="0.083" stop-color="#c2c2c2" stop-opacity="1.000"/><stop offset="0.250" stop-color="#aeaeae" stop-opacity="1.000"/><stop offset="0.375" stop-color="#9e9e9e" stop-opacity="1.000"/><stop offset="0.458" stop-color="#8c8c8c" stop-opacity="1.000"/><stop offset="0.542" stop-color="#6e6e6e" stop-opacity="1.000"/><stop offset="0.625" stop-color="#4a4a4a" stop-opacity="1.000"/><stop offset="0.708" stop-color="#2c2c2c" stop-opacity="1.000"/><stop offset="0.792" stop-color="#282828" stop-opacity="0.600"/><stop offset="0.875" stop-color="#282828" stop-opacity="0.300"/><stop offset="1.000" stop-color="#282828" stop-opacity="0.000"/></radialGradient><radialGradient id="fw44" gradientUnits="userSpaceOnUse" cx="246.3" cy="261.75" r="114.5"><stop offset="0.000" stop-color="#cdcdcd" stop-opacity="1.000"/><stop offset="0.083" stop-color="#c2c2c2" stop-opacity="1.000"/><stop offset="0.250" stop-color="#aeaeae" stop-opacity="1.000"/><stop offset="0.375" stop-color="#9e9e9e" stop-opacity="1.000"/><stop offset="0.458" stop-color="#8c8c8c" stop-opacity="1.000"/><stop offset="0.542" stop-color="#6e6e6e" stop-opacity="1.000"/><stop offset="0.625" stop-color="#4a4a4a" stop-opacity="1.000"/><stop offset="0.708" stop-color="#2c2c2c" stop-opacity="1.000"/><stop offset="0.792" stop-color="#282828" stop-opacity="0.600"/><stop offset="0.875" stop-color="#282828" stop-opacity="0.300"/><stop offset="1.000" stop-color="#282828" stop-opacity="0.000"/></radialGradient><radialGradient id="fw45" gradientUnits="userSpaceOnUse" cx="246.3" cy="261.75" r="114.7"><stop offset="0.000" stop-color="#cdcdcd" stop-opacity="1.000"/><stop offset="0.083" stop-color="#c2c2c2" stop-opacity="1.000"/><stop offset="0.250" stop-color="#aeaeae" stop-opacity="1.000"/><stop offset="0.375" stop-color="#9e9e9e" stop-opacity="1.000"/><stop offset="0.458" stop-color="#8c8c8c" stop-opacity="1.000"/><stop offset="0.542" stop-color="#6e6e6e" stop-opacity="1.000"/><stop offset="0.625" stop-color="#4a4a4a" stop-opacity="1.000"/><stop offset="0.708" stop-color="#2c2c2c" stop-opacity="1.000"/><stop offset="0.792" stop-color="#282828" stop-opacity="0.600"/><stop offset="0.875" stop-color="#282828" stop-opacity="0.300"/><stop offset="1.000" stop-color="#282828" stop-opacity="0.000"/></radialGradient><radialGradient id="fw46" gradientUnits="userSpaceOnUse" cx="246.3" cy="261.75" r="114.9"><stop offset="0.000" stop-color="#cdcdcd" stop-opacity="1.000"/><stop offset="0.083" stop-color="#c2c2c2" stop-opacity="1.000"/><stop offset="0.250" stop-color="#aeaeae" stop-opacity="1.000"/><stop offset="0.375" stop-color="#9e9e9e" stop-opacity="1.000"/><stop offset="0.458" stop-color="#8c8c8c" stop-opacity="1.000"/><stop offset="0.542" stop-color="#6e6e6e" stop-opacity="1.000"/><stop offset="0.625" stop-color="#4a4a4a" stop-opacity="1.000"/><stop offset="0.708" stop-color="#2c2c2c" stop-opacity="1.000"/><stop offset="0.792" stop-color="#282828" stop-opacity="0.600"/><stop offset="0.875" stop-color="#282828" stop-opacity="0.300"/><stop offset="1.000" stop-color="#282828" stop-opacity="0.000"/></radialGradient><radialGradient id="fw47" gradientUnits="userSpaceOnUse" cx="246.3" cy="261.75" r="115.1"><stop offset="0.000" stop-color="#cdcdcd" stop-opacity="1.000"/><stop offset="0.083" stop-color="#c2c2c2" stop-opacity="1.000"/><stop offset="0.250" stop-color="#aeaeae" stop-opacity="1.000"/><stop offset="0.375" stop-color="#9e9e9e" stop-opacity="1.000"/><stop offset="0.458" stop-color="#8c8c8c" stop-opacity="1.000"/><stop offset="0.542" stop-color="#6e6e6e" stop-opacity="1.000"/><stop offset="0.625" stop-color="#4a4a4a" stop-opacity="1.000"/><stop offset="0.708" stop-color="#2c2c2c" stop-opacity="1.000"/><stop offset="0.792" stop-color="#282828" stop-opacity="0.600"/><stop offset="0.875" stop-color="#282828" stop-opacity="0.300"/><stop offset="1.000" stop-color="#282828" stop-opacity="0.000"/></radialGradient><radialGradient id="fw48" gradientUnits="userSpaceOnUse" cx="246.3" cy="261.75" r="113.9"><stop offset="0.000" stop-color="#cdcdcd" stop-opacity="1.000"/><stop offset="0.083" stop-color="#c2c2c2" stop-opacity="1.000"/><stop offset="0.250" stop-color="#aeaeae" stop-opacity="1.000"/><stop offset="0.375" stop-color="#9e9e9e" stop-opacity="1.000"/><stop offset="0.458" stop-color="#8c8c8c" stop-opacity="1.000"/><stop offset="0.542" stop-color="#6e6e6e" stop-opacity="1.000"/><stop offset="0.625" stop-color="#4a4a4a" stop-opacity="1.000"/><stop offset="0.708" stop-color="#2c2c2c" stop-opacity="1.000"/><stop offset="0.792" stop-color="#282828" stop-opacity="0.600"/><stop offset="0.875" stop-color="#282828" stop-opacity="0.300"/><stop offset="1.000" stop-color="#282828" stop-opacity="0.000"/></radialGradient><radialGradient id="fw49" gradientUnits="userSpaceOnUse" cx="246.3" cy="261.75" r="111.2"><stop offset="0.000" stop-color="#cdcdcd" stop-opacity="1.000"/><stop offset="0.083" stop-color="#c2c2c2" stop-opacity="1.000"/><stop offset="0.250" stop-color="#aeaeae" stop-opacity="1.000"/><stop offset="0.375" stop-color="#9e9e9e" stop-opacity="1.000"/><stop offset="0.458" stop-color="#8c8c8c" stop-opacity="1.000"/><stop offset="0.542" stop-color="#6e6e6e" stop-opacity="1.000"/><stop offset="0.625" stop-color="#4a4a4a" stop-opacity="1.000"/><stop offset="0.708" stop-color="#2c2c2c" stop-opacity="1.000"/><stop offset="0.792" stop-color="#282828" stop-opacity="0.600"/><stop offset="0.875" stop-color="#282828" stop-opacity="0.300"/><stop offset="1.000" stop-color="#282828" stop-opacity="0.000"/></radialGradient><radialGradient id="fw50" gradientUnits="userSpaceOnUse" cx="246.3" cy="261.75" r="108.5"><stop offset="0.000" stop-color="#cdcdcd" stop-opacity="1.000"/><stop offset="0.083" stop-color="#c2c2c2" stop-opacity="1.000"/><stop offset="0.250" stop-color="#aeaeae" stop-opacity="1.000"/><stop offset="0.375" stop-color="#9e9e9e" stop-opacity="1.000"/><stop offset="0.458" stop-color="#8c8c8c" stop-opacity="1.000"/><stop offset="0.542" stop-color="#6e6e6e" stop-opacity="1.000"/><stop offset="0.625" stop-color="#4a4a4a" stop-opacity="1.000"/><stop offset="0.708" stop-color="#2c2c2c" stop-opacity="1.000"/><stop offset="0.792" stop-color="#282828" stop-opacity="0.600"/><stop offset="0.875" stop-color="#282828" stop-opacity="0.300"/><stop offset="1.000" stop-color="#282828" stop-opacity="0.000"/></radialGradient><radialGradient id="fw51" gradientUnits="userSpaceOnUse" cx="246.3" cy="261.75" r="106.4"><stop offset="0.000" stop-color="#cdcdcd" stop-opacity="1.000"/><stop offset="0.083" stop-color="#c2c2c2" stop-opacity="1.000"/><stop offset="0.250" stop-color="#aeaeae" stop-opacity="1.000"/><stop offset="0.375" stop-color="#9e9e9e" stop-opacity="1.000"/><stop offset="0.458" stop-color="#8c8c8c" stop-opacity="1.000"/><stop offset="0.542" stop-color="#6e6e6e" stop-opacity="1.000"/><stop offset="0.625" stop-color="#4a4a4a" stop-opacity="1.000"/><stop offset="0.708" stop-color="#2c2c2c" stop-opacity="1.000"/><stop offset="0.792" stop-color="#282828" stop-opacity="0.600"/><stop offset="0.875" stop-color="#282828" stop-opacity="0.300"/><stop offset="1.000" stop-color="#282828" stop-opacity="0.000"/></radialGradient><clipPath id="fanclip"><path d="M246.3,261.8 L98.0,127.0 L250.0,40.0 L420.0,150.0 L430.0,330.0 L360.0,380.0 L356.1,354.7 L349.1,358.6 L343.5,366.7 L335.1,367.7 L331.6,371.6 L329.5,369.5 L323.9,367.0 L316.8,367.0 L310.5,361.8 L306.0,356.8 L301.0,352.4 L294.7,354.0 L291.0,348.2 L275.0,325.0 L266.8,326.6 L264.3,321.7 L261.9,316.8 L258.2,311.9 L254.5,307.6 L252.0,301.4 L247.1,297.7 L242.2,295.3 L238.5,293.4 L233.6,292.2 L236.7,283.0Z"/></clipPath></defs>
<g clip-path="url(#frameL)"><circle cx="246.3" cy="261.75" r="187.30" fill="#000"/>
<g clip-path="url(#diskL)"><rect x="59" y="74" width="375" height="376" fill="#000" filter="url(#speck)"/></g>
<g clip-path="url(#diskL)"><g clip-path="url(#fanclip)"><g filter="url(#fantex)"><path d="M246.3,261.75 L208.6,325.5 L215.7,329.2Z" fill="url(#fw0)"/><path d="M246.3,261.75 L213.0,331.3 L220.7,334.5Z" fill="url(#fw1)"/><path d="M246.3,261.75 L218.0,337.1 L226.3,339.7Z" fill="url(#fw2)"/><path d="M246.3,261.75 L223.8,342.4 L232.6,344.4Z" fill="url(#fw3)"/><path d="M246.3,261.75 L230.3,347.4 L239.6,348.6Z" fill="url(#fw4)"/><path d="M246.3,261.75 L237.5,351.8 L247.2,352.2Z" fill="url(#fw5)"/><path d="M246.3,261.75 L245.3,354.7 L255.4,354.3Z" fill="url(#fw6)"/><path d="M246.3,261.75 L253.6,356.1 L263.7,354.8Z" fill="url(#fw7)"/><path d="M246.3,261.75 L262.0,356.8 L272.2,354.5Z" fill="url(#fw8)"/><path d="M246.3,261.75 L270.7,356.7 L280.8,353.5Z" fill="url(#fw9)"/><path d="M246.3,261.75 L279.4,355.8 L289.4,351.7Z" fill="url(#fw10)"/><path d="M246.3,261.75 L288.1,353.9 L297.8,348.8Z" fill="url(#fw11)"/><path d="M246.3,261.75 L296.5,350.9 L305.9,345.0Z" fill="url(#fw12)"/><path d="M246.3,261.75 L304.8,347.2 L313.7,340.4Z" fill="url(#fw13)"/><path d="M246.3,261.75 L312.8,342.7 L321.1,335.0Z" fill="url(#fw14)"/><path d="M246.3,261.75 L322.2,339.3 L330.1,330.6Z" fill="url(#fw15)"/><path d="M246.3,261.75 L333.4,336.4 L341.0,326.6Z" fill="url(#fw16)"/><path d="M246.3,261.75 L344.7,332.2 L351.7,321.1Z" fill="url(#fw17)"/><path d="M246.3,261.75 L355.8,326.5 L362.2,314.3Z" fill="url(#fw18)"/><path d="M246.3,261.75 L366.7,319.4 L372.2,306.1Z" fill="url(#fw19)"/><path d="M246.3,261.75 L375.3,310.2 L379.8,296.0Z" fill="url(#fw20)"/><path d="M246.3,261.75 L381.3,299.5 L384.6,284.6Z" fill="url(#fw21)"/><path d="M246.3,261.75 L386.5,288.0 L388.5,272.7Z" fill="url(#fw22)"/><path d="M246.3,261.75 L390.6,275.9 L391.3,260.2Z" fill="url(#fw23)"/><path d="M246.3,261.75 L391.0,263.3 L390.3,247.6Z" fill="url(#fw24)"/><path d="M246.3,261.75 L387.6,250.9 L385.6,235.7Z" fill="url(#fw25)"/><path d="M246.3,261.75 L383.1,239.1 L379.9,224.5Z" fill="url(#fw26)"/><path d="M246.3,261.75 L377.7,228.0 L373.3,214.0Z" fill="url(#fw27)"/><path d="M246.3,261.75 L371.5,217.7 L366.0,204.4Z" fill="url(#fw28)"/><path d="M246.3,261.75 L364.6,208.1 L358.1,195.6Z" fill="url(#fw29)"/><path d="M246.3,261.75 L356.9,199.4 L349.5,187.8Z" fill="url(#fw30)"/><path d="M246.3,261.75 L348.7,191.6 L340.5,181.0Z" fill="url(#fw31)"/><path d="M246.3,261.75 L340.0,184.8 L331.1,175.1Z" fill="url(#fw32)"/><path d="M246.3,261.75 L331.6,178.2 L322.1,169.5Z" fill="url(#fw33)"/><path d="M246.3,261.75 L323.5,171.7 L313.3,163.9Z" fill="url(#fw34)"/><path d="M246.3,261.75 L314.9,166.0 L304.1,159.1Z" fill="url(#fw35)"/><path d="M246.3,261.75 L306.0,160.8 L294.7,155.0Z" fill="url(#fw36)"/><path d="M246.3,261.75 L296.9,156.2 L285.2,151.3Z" fill="url(#fw37)"/><path d="M246.3,261.75 L287.4,152.4 L275.4,148.6Z" fill="url(#fw38)"/><path d="M246.3,261.75 L277.7,149.4 L265.4,146.6Z" fill="url(#fw39)"/><path d="M246.3,261.75 L267.7,147.3 L255.2,145.6Z" fill="url(#fw40)"/><path d="M246.3,261.75 L257.6,146.0 L245.1,145.5Z" fill="url(#fw41)"/><path d="M246.3,261.75 L247.5,145.5 L235.0,146.0Z" fill="url(#fw42)"/><path d="M246.3,261.75 L237.4,145.6 L224.9,147.3Z" fill="url(#fw43)"/><path d="M246.3,261.75 L227.2,146.6 L214.9,149.4Z" fill="url(#fw44)"/><path d="M246.3,261.75 L217.2,148.6 L205.2,152.4Z" fill="url(#fw45)"/><path d="M246.3,261.75 L207.4,151.3 L195.7,156.2Z" fill="url(#fw46)"/><path d="M246.3,261.75 L197.9,155.0 L186.6,160.8Z" fill="url(#fw47)"/><path d="M246.3,261.75 L189.3,160.7 L178.8,167.4Z" fill="url(#fw48)"/><path d="M246.3,261.75 L182.3,168.2 L172.6,175.7Z" fill="url(#fw49)"/><path d="M246.3,261.75 L176.1,176.3 L167.3,184.4Z" fill="url(#fw50)"/><path d="M246.3,261.75 L170.4,184.2 L165.2,189.7Z" fill="url(#fw51)"/></g></g></g>
<g clip-path="url(#fanclip)"><line x1="272.5" y1="260.0" x2="305.7" y2="257.8" stroke="#000" stroke-width="0.9" opacity="0.14"/><line x1="268.5" y1="257.0" x2="299.5" y2="250.4" stroke="#000" stroke-width="0.9" opacity="0.13"/><line x1="260.6" y1="276.6" x2="307.0" y2="325.2" stroke="#000" stroke-width="0.9" opacity="0.09"/><line x1="278.7" y1="271.0" x2="332.5" y2="286.5" stroke="#000" stroke-width="0.9" opacity="0.13"/><line x1="225.1" y1="238.5" x2="196.1" y2="206.7" stroke="#000" stroke-width="0.9" opacity="0.10"/><line x1="270.6" y1="280.0" x2="301.2" y2="302.8" stroke="#000" stroke-width="0.9" opacity="0.15"/><line x1="256.0" y1="240.1" x2="269.4" y2="210.2" stroke="#000" stroke-width="0.9" opacity="0.09"/><line x1="258.7" y1="266.1" x2="286.4" y2="275.9" stroke="#fff" stroke-width="0.9" opacity="0.09"/><line x1="272.3" y1="247.1" x2="326.0" y2="217.1" stroke="#000" stroke-width="0.9" opacity="0.11"/><line x1="265.4" y1="236.2" x2="303.1" y2="186.0" stroke="#000" stroke-width="0.9" opacity="0.11"/><line x1="232.3" y1="246.8" x2="188.6" y2="200.0" stroke="#000" stroke-width="0.9" opacity="0.10"/><line x1="267.8" y1="245.9" x2="319.7" y2="207.8" stroke="#000" stroke-width="0.9" opacity="0.15"/><line x1="235.8" y1="236.4" x2="214.1" y2="184.0" stroke="#000" stroke-width="0.9" opacity="0.15"/><line x1="263.1" y1="252.1" x2="292.7" y2="235.1" stroke="#fff" stroke-width="0.9" opacity="0.10"/><line x1="256.8" y1="273.5" x2="290.1" y2="310.5" stroke="#fff" stroke-width="0.9" opacity="0.11"/><line x1="273.0" y1="263.6" x2="303.9" y2="265.7" stroke="#000" stroke-width="0.9" opacity="0.14"/><line x1="256.5" y1="266.9" x2="314.1" y2="296.1" stroke="#000" stroke-width="0.9" opacity="0.10"/><line x1="277.5" y1="267.9" x2="310.5" y2="274.5" stroke="#000" stroke-width="0.9" opacity="0.13"/><line x1="258.2" y1="248.4" x2="288.8" y2="214.2" stroke="#fff" stroke-width="0.9" opacity="0.07"/><line x1="276.1" y1="249.8" x2="344.0" y2="222.7" stroke="#000" stroke-width="0.9" opacity="0.10"/><line x1="260.6" y1="268.5" x2="307.5" y2="290.6" stroke="#000" stroke-width="0.9" opacity="0.15"/><line x1="266.6" y1="264.7" x2="312.7" y2="271.4" stroke="#000" stroke-width="0.9" opacity="0.15"/><line x1="237.6" y1="250.5" x2="214.0" y2="220.1" stroke="#fff" stroke-width="0.9" opacity="0.10"/><line x1="257.6" y1="274.9" x2="287.7" y2="310.0" stroke="#fff" stroke-width="0.9" opacity="0.11"/><line x1="258.3" y1="258.0" x2="314.2" y2="240.6" stroke="#000" stroke-width="0.9" opacity="0.09"/><line x1="255.9" y1="272.0" x2="287.0" y2="305.0" stroke="#000" stroke-width="0.9" opacity="0.09"/><line x1="252.6" y1="272.6" x2="275.8" y2="312.7" stroke="#000" stroke-width="0.9" opacity="0.08"/><line x1="241.1" y1="249.1" x2="225.5" y2="210.8" stroke="#000" stroke-width="0.9" opacity="0.12"/><line x1="276.9" y1="255.4" x2="350.0" y2="240.2" stroke="#000" stroke-width="0.9" opacity="0.14"/><line x1="256.5" y1="254.5" x2="293.6" y2="228.2" stroke="#000" stroke-width="0.9" opacity="0.11"/><line x1="243.9" y1="251.5" x2="227.1" y2="180.6" stroke="#000" stroke-width="0.9" opacity="0.14"/><line x1="255.4" y1="267.3" x2="301.5" y2="295.1" stroke="#000" stroke-width="0.9" opacity="0.20"/><line x1="242.5" y1="251.3" x2="231.8" y2="222.2" stroke="#fff" stroke-width="0.9" opacity="0.06"/><line x1="245.2" y1="232.3" x2="243.6" y2="187.5" stroke="#000" stroke-width="0.9" opacity="0.11"/><line x1="243.2" y1="243.8" x2="235.6" y2="200.3" stroke="#fff" stroke-width="0.9" opacity="0.11"/><line x1="248.0" y1="238.9" x2="251.4" y2="193.0" stroke="#000" stroke-width="0.9" opacity="0.08"/><line x1="255.9" y1="275.2" x2="291.4" y2="325.0" stroke="#000" stroke-width="0.9" opacity="0.19"/><line x1="263.8" y1="252.4" x2="306.7" y2="229.5" stroke="#fff" stroke-width="0.9" opacity="0.08"/><line x1="260.6" y1="266.0" x2="298.2" y2="277.2" stroke="#000" stroke-width="0.9" opacity="0.15"/><line x1="240.0" y1="249.5" x2="221.8" y2="214.4" stroke="#fff" stroke-width="0.9" opacity="0.11"/><line x1="260.1" y1="274.7" x2="291.7" y2="304.5" stroke="#fff" stroke-width="0.9" opacity="0.10"/><line x1="270.9" y1="245.1" x2="308.1" y2="219.8" stroke="#000" stroke-width="0.9" opacity="0.18"/><line x1="233.0" y1="246.7" x2="185.0" y2="192.3" stroke="#000" stroke-width="0.9" opacity="0.17"/><line x1="258.6" y1="267.9" x2="321.9" y2="299.5" stroke="#000" stroke-width="0.9" opacity="0.18"/><line x1="263.2" y1="272.0" x2="297.2" y2="292.6" stroke="#fff" stroke-width="0.9" opacity="0.07"/><line x1="253.2" y1="254.0" x2="302.4" y2="199.2" stroke="#000" stroke-width="0.9" opacity="0.16"/><line x1="255.8" y1="252.6" x2="289.2" y2="220.7" stroke="#fff" stroke-width="0.9" opacity="0.11"/><line x1="262.7" y1="267.2" x2="301.5" y2="280.1" stroke="#000" stroke-width="0.9" opacity="0.15"/><line x1="259.4" y1="263.8" x2="329.5" y2="274.8" stroke="#000" stroke-width="0.9" opacity="0.12"/><line x1="274.5" y1="245.3" x2="316.7" y2="220.7" stroke="#000" stroke-width="0.9" opacity="0.19"/><line x1="264.3" y1="247.3" x2="288.3" y2="227.9" stroke="#000" stroke-width="0.9" opacity="0.13"/><line x1="273.7" y1="273.9" x2="308.2" y2="289.2" stroke="#000" stroke-width="0.9" opacity="0.14"/><line x1="248.6" y1="243.7" x2="255.2" y2="190.8" stroke="#000" stroke-width="0.9" opacity="0.15"/><line x1="244.4" y1="237.8" x2="241.2" y2="196.8" stroke="#000" stroke-width="0.9" opacity="0.11"/><line x1="245.4" y1="237.7" x2="243.0" y2="173.6" stroke="#000" stroke-width="0.9" opacity="0.19"/><line x1="266.4" y1="251.4" x2="313.5" y2="227.0" stroke="#000" stroke-width="0.9" opacity="0.16"/><line x1="265.5" y1="251.1" x2="328.7" y2="215.9" stroke="#000" stroke-width="0.9" opacity="0.16"/><line x1="242.0" y1="251.5" x2="227.8" y2="217.6" stroke="#fff" stroke-width="0.9" opacity="0.12"/><line x1="242.8" y1="249.2" x2="229.5" y2="201.1" stroke="#000" stroke-width="0.9" opacity="0.09"/><line x1="272.4" y1="267.6" x2="336.1" y2="281.8" stroke="#000" stroke-width="0.9" opacity="0.19"/><line x1="260.1" y1="269.6" x2="281.3" y2="281.6" stroke="#fff" stroke-width="0.9" opacity="0.11"/><line x1="224.3" y1="236.1" x2="193.1" y2="199.7" stroke="#000" stroke-width="0.9" opacity="0.14"/><line x1="239.3" y1="254.7" x2="216.0" y2="231.4" stroke="#fff" stroke-width="0.9" opacity="0.09"/><line x1="264.1" y1="259.6" x2="326.2" y2="252.2" stroke="#000" stroke-width="0.9" opacity="0.08"/><line x1="253.1" y1="253.8" x2="282.5" y2="219.9" stroke="#000" stroke-width="0.9" opacity="0.15"/><line x1="272.5" y1="239.1" x2="321.9" y2="196.2" stroke="#000" stroke-width="0.9" opacity="0.20"/><line x1="254.8" y1="268.7" x2="305.1" y2="310.0" stroke="#000" stroke-width="0.9" opacity="0.11"/><line x1="273.3" y1="280.3" x2="328.4" y2="318.2" stroke="#000" stroke-width="0.9" opacity="0.11"/><line x1="259.1" y1="269.3" x2="294.4" y2="290.2" stroke="#fff" stroke-width="0.9" opacity="0.06"/><line x1="255.0" y1="271.6" x2="269.6" y2="288.2" stroke="#fff" stroke-width="0.9" opacity="0.12"/><line x1="250.1" y1="253.6" x2="269.4" y2="212.2" stroke="#fff" stroke-width="0.9" opacity="0.05"/><line x1="240.0" y1="244.4" x2="221.2" y2="192.8" stroke="#000" stroke-width="0.9" opacity="0.19"/><line x1="269.3" y1="264.7" x2="309.7" y2="269.8" stroke="#000" stroke-width="0.9" opacity="0.09"/><line x1="259.6" y1="268.9" x2="298.4" y2="289.7" stroke="#000" stroke-width="0.9" opacity="0.12"/><line x1="246.4" y1="239.2" x2="246.7" y2="201.2" stroke="#000" stroke-width="0.9" opacity="0.12"/><line x1="252.0" y1="270.4" x2="286.9" y2="322.9" stroke="#000" stroke-width="0.9" opacity="0.15"/><line x1="277.1" y1="274.6" x2="309.2" y2="288.0" stroke="#000" stroke-width="0.9" opacity="0.18"/><line x1="274.2" y1="248.6" x2="317.4" y2="228.4" stroke="#000" stroke-width="0.9" opacity="0.14"/><line x1="249.3" y1="250.0" x2="260.6" y2="206.5" stroke="#fff" stroke-width="0.9" opacity="0.10"/><line x1="254.1" y1="244.8" x2="267.7" y2="215.3" stroke="#000" stroke-width="0.9" opacity="0.10"/><line x1="254.0" y1="269.7" x2="271.3" y2="287.7" stroke="#fff" stroke-width="0.9" opacity="0.06"/><line x1="241.9" y1="246.3" x2="234.2" y2="218.9" stroke="#fff" stroke-width="0.9" opacity="0.07"/><line x1="260.2" y1="262.3" x2="310.3" y2="264.3" stroke="#000" stroke-width="0.9" opacity="0.11"/><line x1="237.0" y1="250.5" x2="219.7" y2="229.4" stroke="#fff" stroke-width="0.9" opacity="0.12"/><line x1="256.3" y1="261.6" x2="303.5" y2="260.8" stroke="#000" stroke-width="0.9" opacity="0.14"/><line x1="263.9" y1="247.5" x2="287.3" y2="228.5" stroke="#000" stroke-width="0.9" opacity="0.11"/><line x1="254.5" y1="269.2" x2="277.4" y2="290.1" stroke="#000" stroke-width="0.9" opacity="0.12"/><line x1="268.8" y1="267.4" x2="330.7" y2="283.0" stroke="#000" stroke-width="0.9" opacity="0.16"/><line x1="248.3" y1="249.2" x2="252.9" y2="219.8" stroke="#fff" stroke-width="0.9" opacity="0.12"/><line x1="259.8" y1="269.7" x2="278.2" y2="280.6" stroke="#fff" stroke-width="0.9" opacity="0.11"/><line x1="234.0" y1="236.2" x2="205.1" y2="176.3" stroke="#000" stroke-width="0.9" opacity="0.10"/><line x1="268.8" y1="240.6" x2="317.1" y2="195.3" stroke="#000" stroke-width="0.9" opacity="0.18"/><line x1="255.6" y1="248.5" x2="278.9" y2="215.0" stroke="#fff" stroke-width="0.9" opacity="0.07"/><line x1="257.5" y1="277.1" x2="278.0" y2="305.1" stroke="#000" stroke-width="0.9" opacity="0.18"/><line x1="262.8" y1="242.1" x2="301.7" y2="195.6" stroke="#000" stroke-width="0.9" opacity="0.14"/><line x1="255.0" y1="276.4" x2="272.8" y2="306.5" stroke="#fff" stroke-width="0.9" opacity="0.09"/><line x1="256.1" y1="235.1" x2="270.3" y2="196.2" stroke="#000" stroke-width="0.9" opacity="0.09"/><line x1="256.7" y1="263.1" x2="298.5" y2="268.8" stroke="#fff" stroke-width="0.9" opacity="0.12"/><line x1="263.8" y1="248.4" x2="312.1" y2="211.6" stroke="#000" stroke-width="0.9" opacity="0.17"/><line x1="252.0" y1="251.3" x2="269.4" y2="219.0" stroke="#000" stroke-width="0.9" opacity="0.11"/><line x1="247.8" y1="237.6" x2="249.7" y2="207.1" stroke="#000" stroke-width="0.9" opacity="0.09"/><line x1="262.5" y1="263.8" x2="302.4" y2="268.7" stroke="#fff" stroke-width="0.9" opacity="0.07"/><line x1="262.5" y1="247.3" x2="288.8" y2="223.8" stroke="#000" stroke-width="0.9" opacity="0.19"/><line x1="264.3" y1="268.6" x2="283.5" y2="275.8" stroke="#fff" stroke-width="0.9" opacity="0.08"/><line x1="243.6" y1="248.6" x2="238.0" y2="221.1" stroke="#fff" stroke-width="0.9" opacity="0.06"/><line x1="231.8" y1="242.0" x2="210.3" y2="212.6" stroke="#000" stroke-width="0.9" opacity="0.14"/><line x1="227.6" y1="237.6" x2="195.3" y2="195.8" stroke="#000" stroke-width="0.9" opacity="0.19"/><line x1="252.7" y1="230.0" x2="263.0" y2="179.1" stroke="#000" stroke-width="0.9" opacity="0.08"/><line x1="257.2" y1="280.0" x2="279.4" y2="317.5" stroke="#000" stroke-width="0.9" opacity="0.10"/><line x1="277.0" y1="257.6" x2="306.8" y2="253.5" stroke="#000" stroke-width="0.9" opacity="0.17"/></g>
<line x1="252.2" y1="247.9" x2="283.4" y2="174.3" stroke="#000" stroke-width="1" opacity="0.35"/>
<line x1="254.5" y1="249.2" x2="295.3" y2="186.3" stroke="#000" stroke-width="1" opacity="0.3"/>
<line x1="242.8" y1="250.3" x2="221.4" y2="180.5" stroke="#000" stroke-width="1" opacity="0.2"/>
<line x1="243.4" y1="247.0" x2="232.0" y2="188.1" stroke="#000" stroke-width="1" opacity="0.15"/>
<line x1="240.1" y1="253.9" x2="194.0" y2="194.8" stroke="#000" stroke-width="1" opacity="0.2"/>
<g filter="url(#tex2)"><path d="M238.5,262.4 L163.5,267.0 L172.0,282.0 L186.0,297.5 L240.8,267.1Z" fill="url(#spikeG)"/></g>
<line x1="240" y1="266" x2="186" y2="293" stroke="#101010" stroke-width="1.2"/>
<path d="M246.3,261.8 L181.0,202.5 L183.0,220.0 L186.0,245.0 L188.0,264.5 L238.5,262.4Z" fill="#000"/>
<path d="M246.3,261.8 L240.8,267.1 L184.8,297.9 L200.0,310.0 L225.0,306.0 L233.6,292.2 L236.7,283.0Z" fill="#000"/>
<path d="M291.0,348.2 L293.7,346.6 L297.4,345.5 L299.5,345.0 L300.5,348.2 L301.0,352.4 L295.8,353.4 L294.7,354.0Z" fill="#fff" transform="translate(1.5,1.8)" filter="url(#glow)"/>
<path d="M291.0,348.2 L293.7,346.6 L297.4,345.5 L299.5,345.0 L300.5,348.2 L301.0,352.4 L295.8,353.4 L294.7,354.0Z" fill="#fff" transform="translate(1,1.2)" filter="url(#glow)" opacity="0.8"/>
<path d="M306.0,356.8 L310.5,357.9 L311.6,361.1 L314.0,361.8 L318.2,360.0 L321.8,360.4 L325.6,364.2 L323.9,367.0 L320.4,367.7 L316.8,367.0 L314.0,364.9 L310.5,361.8 L307.0,359.0Z" fill="#fff" transform="translate(1.5,1.8)" filter="url(#glow)"/>
<path d="M306.0,356.8 L310.5,357.9 L311.6,361.1 L314.0,361.8 L318.2,360.0 L321.8,360.4 L325.6,364.2 L323.9,367.0 L320.4,367.7 L316.8,367.0 L314.0,364.9 L310.5,361.8 L307.0,359.0Z" fill="#fff" transform="translate(1,1.2)" filter="url(#glow)" opacity="0.8"/>
<path d="M329.1,364.9 L331.9,362.1 L335.1,364.2 L338.6,362.5 L342.1,357.5 L344.9,354.4 L348.4,351.2 L350.5,353.3 L354.7,352.3 L356.1,354.7 L354.7,356.5 L349.1,358.6 L345.6,363.2 L343.5,366.7 L335.1,367.7 L331.6,371.6 L329.5,369.5Z" fill="#fff" transform="translate(1.5,1.8)" filter="url(#glow)"/>
<path d="M329.1,364.9 L331.9,362.1 L335.1,364.2 L338.6,362.5 L342.1,357.5 L344.9,354.4 L348.4,351.2 L350.5,353.3 L354.7,352.3 L356.1,354.7 L354.7,356.5 L349.1,358.6 L345.6,363.2 L343.5,366.7 L335.1,367.7 L331.6,371.6 L329.5,369.5Z" fill="#fff" transform="translate(1,1.2)" filter="url(#glow)" opacity="0.8"/>
<path d="M323.0,225.5 L326.0,224.8 L329.0,226.5 L328.5,229.0 L324.0,229.0Z" fill="#fff" transform="translate(1.5,1.8)" filter="url(#glow)"/>
<path d="M323.0,225.5 L326.0,224.8 L329.0,226.5 L328.5,229.0 L324.0,229.0Z" fill="#fff" transform="translate(1,1.2)" filter="url(#glow)" opacity="0.8"/>
<path d="M283.5,335.5 L286.0,335.5 L286.5,338.0 L284.0,338.5Z" fill="#fff" transform="translate(1.5,1.8)" filter="url(#glow)"/>
<path d="M283.5,335.5 L286.0,335.5 L286.5,338.0 L284.0,338.5Z" fill="#fff" transform="translate(1,1.2)" filter="url(#glow)" opacity="0.8"/>
<path d="M298.0,339.5 L300.0,339.0 L300.5,342.0 L298.5,342.5Z" fill="#fff" transform="translate(1.5,1.8)" filter="url(#glow)"/>
<path d="M298.0,339.5 L300.0,339.0 L300.5,342.0 L298.5,342.5Z" fill="#fff" transform="translate(1,1.2)" filter="url(#glow)" opacity="0.8"/>
<path d="M237.1,282.9 L240.8,283.4 L243.4,287.1 L247.6,289.2 L250.3,290.8 L251.3,293.9 L252.4,299.2 L255.5,301.3 L257.1,304.5 L259.7,307.6 L262.4,310.8 L263.4,314.5 L270.3,309.7 L273.9,317.1 L267.1,326.6 L265.0,323.4 L262.9,319.2 L260.8,314.5 L258.7,311.8 L254.5,306.6 L252.9,301.3 L250.8,300.3 L247.1,297.6 L241.8,295.5 L238.7,293.4 L233.4,292.4 L233.9,289.7Z" fill="#ffff00"/>
<path d="M291.0,348.2 L293.7,346.6 L297.4,345.5 L299.5,345.0 L300.5,348.2 L301.0,352.4 L295.8,353.4 L294.7,354.0Z" fill="#ffff00"/>
<path d="M306.0,356.8 L310.5,357.9 L311.6,361.1 L314.0,361.8 L318.2,360.0 L321.8,360.4 L325.6,364.2 L323.9,367.0 L320.4,367.7 L316.8,367.0 L314.0,364.9 L310.5,361.8 L307.0,359.0Z" fill="#ffff00"/>
<path d="M329.1,364.9 L331.9,362.1 L335.1,364.2 L338.6,362.5 L342.1,357.5 L344.9,354.4 L348.4,351.2 L350.5,353.3 L354.7,352.3 L356.1,354.7 L354.7,356.5 L349.1,358.6 L345.6,363.2 L343.5,366.7 L335.1,367.7 L331.6,371.6 L329.5,369.5Z" fill="#ffff00"/>
<path d="M323.0,225.5 L326.0,224.8 L329.0,226.5 L328.5,229.0 L324.0,229.0Z" fill="#ffff00"/>
<path d="M283.5,335.5 L286.0,335.5 L286.5,338.0 L284.0,338.5Z" fill="#ffff00"/>
<path d="M298.0,339.5 L300.0,339.0 L300.5,342.0 L298.5,342.5Z" fill="#ffff00"/>
<path d="M236.5,257 L240,257 L240.5,261 L237,261.5Z" fill="#ffff00"/>
<path d="M224,268.5 L238,266 L239,268 L226,270.5Z" fill="#e8e000" opacity="0.8"/>
<line x1="226" y1="290.8" x2="230.8" y2="284.5" stroke="#e8e000" stroke-width="1.2"/>
<line x1="247.1" y1="282.9" x2="247.6" y2="288.7" stroke="#ddd" stroke-width="1"/>
<rect x="250.5" y="245.5" width="1.6" height="1.6" fill="#ffff00"/>
<rect x="252" y="248.5" width="1.6" height="1.6" fill="#ffff00"/>
<rect x="250" y="251" width="1.6" height="1.6" fill="#ffff00"/>
<rect x="254" y="247" width="1.6" height="1.6" fill="#ffff00"/>
<rect x="253.5" y="252.5" width="1.6" height="1.6" fill="#ffff00"/>
<rect x="243" y="255" width="1.6" height="1.6" fill="#ffff00"/>
<rect x="241.5" y="251" width="1.6" height="1.6" fill="#ffff00"/>
<circle cx="246.3" cy="261.75" r="6.6" fill="#464646"/>
<g clip-path="url(#diskL)"><path d="M65,306 L70,307 L75,314 L80,321 L83,326 L78,328 L73,322 L68,315Z" fill="#c8c8c8" filter="url(#glow)"/></g>
<circle cx="224.5" cy="106.2" r="2" fill="#707070" filter="url(#glow)"/>
<circle cx="202.7" cy="109.6" r="1.2" fill="#606060"/>
<polyline points="58.9,146.0 70.3,139.7 86.3,128.9 88.3,128.9 88.3,119.2 91.9,118.0 91.7,111.8 95.4,108.9 93.1,105.5 89.7,104.4 88.0,107.2 86.3,106.7 84.0,102.1 87.4,99.8 89.1,98.7 89.7,95.3 93.1,92.4 122.1,90.1 123.3,107.2 127.3,107.8 129.6,106.4 134.1,107.2 136.4,98.7 133.5,97.0 134.7,91.8 138.3,92.2 139.8,90.3 142.2,87.8 143.2,88.8 141.7,89.8 147.6,94.2 156.4,94.2 165.2,98.1 172.0,95.6 179.8,96.1 188.6,98.1 190.1,101.0 194.5,103.9 201.3,101.5 202.8,99.5 204.7,102.0 211.1,102.0 216.1,96.5 216.9,94.9 218.9,94.1 220.6,95.7 222.6,97.0 226.6,95.7 230.2,92.9 231.0,89.7 229.8,88.9 235.4,94.1 242.7,87.3 241.1,85.7 236.3,88.1 235.9,86.9 241.1,83.7 248.3,80.1 250.7,82.1 255.6,80.1 260.4,76.0 257.2,78.0 256.4,80.5 258.8,82.9 262.0,83.3 265.2,81.3 265.2,78.0 268.4,75.6 270.9,73.0" fill="none" stroke="#f8f8f8" stroke-width="1.0" stroke-linejoin="round" /><polyline points="278.2,74.5 290.6,75.8 293.7,87.7 294.8,89.7 294.2,91.8 296.3,96.4 289.1,98.0 287.5,94.9 284.4,95.9 288.6,107.3 297.3,104.2 296.8,100.6 298.9,99.6 304.1,106.3 310.3,103.2 308.2,95.9 310.3,94.9 312.9,101.1 325.3,94.4 320.6,84.6 310.3,89.2 300.5,84.6 310.8,79.9 308.7,74.5" fill="none" stroke="#f8f8f8" stroke-width="1.0" stroke-linejoin="round" /><polyline points="328.9,74.5 332.0,77.3 335.1,75.8 335.6,79.4 327.9,83.5 330.4,89.7 343.4,83.0 339.2,74.5" fill="none" stroke="#f8f8f8" stroke-width="1.0" stroke-linejoin="round" />
<g clip-path="url(#diskL)"><polyline points="58.9,146.0 70.3,139.7 86.3,128.9 88.3,128.9 88.3,119.2 91.9,118.0 91.7,111.8 95.4,108.9 93.1,105.5 89.7,104.4 88.0,107.2 86.3,106.7 84.0,102.1 87.4,99.8 89.1,98.7 89.7,95.3 93.1,92.4 122.1,90.1 123.3,107.2 127.3,107.8 129.6,106.4 134.1,107.2 136.4,98.7 133.5,97.0 134.7,91.8 138.3,92.2 139.8,90.3 142.2,87.8 143.2,88.8 141.7,89.8 147.6,94.2 156.4,94.2 165.2,98.1 172.0,95.6 179.8,96.1 188.6,98.1 190.1,101.0 194.5,103.9 201.3,101.5 202.8,99.5 204.7,102.0 211.1,102.0 216.1,96.5 216.9,94.9 218.9,94.1 220.6,95.7 222.6,97.0 226.6,95.7 230.2,92.9 231.0,89.7 229.8,88.9 235.4,94.1 242.7,87.3 241.1,85.7 236.3,88.1 235.9,86.9 241.1,83.7 248.3,80.1 250.7,82.1 255.6,80.1 260.4,76.0 257.2,78.0 256.4,80.5 258.8,82.9 262.0,83.3 265.2,81.3 265.2,78.0 268.4,75.6 270.9,73.0" fill="none" stroke="#e4e4e4" stroke-width="1.25" stroke-linejoin="round" /><polyline points="278.2,74.5 290.6,75.8 293.7,87.7 294.8,89.7 294.2,91.8 296.3,96.4 289.1,98.0 287.5,94.9 284.4,95.9 288.6,107.3 297.3,104.2 296.8,100.6 298.9,99.6 304.1,106.3 310.3,103.2 308.2,95.9 310.3,94.9 312.9,101.1 325.3,94.4 320.6,84.6 310.3,89.2 300.5,84.6 310.8,79.9 308.7,74.5" fill="none" stroke="#e4e4e4" stroke-width="1.25" stroke-linejoin="round" /><polyline points="328.9,74.5 332.0,77.3 335.1,75.8 335.6,79.4 327.9,83.5 330.4,89.7 343.4,83.0 339.2,74.5" fill="none" stroke="#e4e4e4" stroke-width="1.25" stroke-linejoin="round" /></g></g>
<g clip-path="url(#frameR)"><polyline points="480.0,146.0 491.4,139.7 507.4,128.9 509.4,128.9 509.4,119.2 513.0,118.0 512.8,111.8 516.5,108.9 514.2,105.5 510.8,104.4 509.1,107.2 507.4,106.7 505.1,102.1 508.5,99.8 510.2,98.7 510.8,95.3 514.2,92.4 543.2,90.1 544.4,107.2 548.4,107.8 550.7,106.4 555.2,107.2 557.5,98.7 554.6,97.0 555.8,91.8 559.4,92.2 560.9,90.3 563.3,87.8 564.3,88.8 562.8,89.8 568.7,94.2 577.5,94.2 586.3,98.1 593.1,95.6 600.9,96.1 609.7,98.1 611.2,101.0 615.6,103.9 622.4,101.5 623.9,99.5 625.8,102.0 632.2,102.0 637.2,96.5 638.0,94.9 640.0,94.1 641.7,95.7 643.7,97.0 647.7,95.7 651.3,92.9 652.1,89.7 650.9,88.9 656.5,94.1 663.8,87.3 662.2,85.7 657.4,88.1 657.0,86.9 662.2,83.7 669.4,80.1 671.8,82.1 676.7,80.1 681.5,76.0 678.3,78.0 677.5,80.5 679.9,82.9 683.1,83.3 686.3,81.3 686.3,78.0 689.5,75.6 692.0,73.0" fill="none" stroke="#000" stroke-width="1.3" stroke-linejoin="round" /><polyline points="699.3,74.5 711.7,75.8 714.8,87.7 715.9,89.7 715.3,91.8 717.4,96.4 710.2,98.0 708.6,94.9 705.5,95.9 709.7,107.3 718.4,104.2 717.9,100.6 720.0,99.6 725.2,106.3 731.4,103.2 729.3,95.9 731.4,94.9 734.0,101.1 746.4,94.4 741.7,84.6 731.4,89.2 721.6,84.6 731.9,79.9 729.8,74.5" fill="none" stroke="#000" stroke-width="1.3" stroke-linejoin="round" /><polyline points="750.0,74.5 753.1,77.3 756.2,75.8 756.7,79.4 749.0,83.5 751.5,89.7 764.5,83.0 760.3,74.5" fill="none" stroke="#000" stroke-width="1.3" stroke-linejoin="round" />
<rect x="646" y="106.4" width="4" height="1.3" fill="#d01030"/>
<g filter="url(#holes)"><path d="M667.6,261.0 L606.3,204.5 L611.0,207.6 L615.8,208.4 L620.5,210.0 L628.4,209.2 L630.8,205.3 L634.8,199.0 L641.9,195.8 L647.4,195.0 L655.3,191.8 L663.2,190.0 L672.7,189.8 L668.0,216.0 L664.0,250.0Z" fill="#00007e"/><path d="M661.0,256.0 L662.0,226.0 L656.0,207.0 L650.0,196.0 L663.2,191.0 L672.7,190.8 L683.7,194.8 L695.8,198.7 L703.5,201.6 L713.2,207.4 L722.8,215.1 L730.5,220.9 L736.3,226.7 L747.9,223.8 L750.8,228.6 L747.9,234.4 L751.8,240.2 L753.7,247.9 L747.9,255.6 L734.4,258.5 L738.3,265.3 L744.0,271.1 L749.8,280.7 L751.8,292.3 L738.3,288.5 L724.7,286.5 L709.3,286.5 L695.8,290.4 L680.0,291.5 L673.7,291.0 L662.0,270.0Z" fill="url(#orG)"/><path d="M661.0,256.0 L662.0,226.0 L656.0,207.0 L650.0,196.0 L663.2,191.0 L672.7,190.8 L683.7,194.8 L695.8,198.7 L703.5,201.6 L713.2,207.4 L722.8,215.1 L730.5,220.9 L736.3,226.7 L747.9,223.8 L750.8,228.6 L747.9,234.4 L751.8,240.2 L753.7,247.9 L747.9,255.6 L734.4,258.5 L738.3,265.3 L744.0,271.1 L749.8,280.7 L751.8,292.3 L738.3,288.5 L724.7,286.5 L709.3,286.5 L695.8,290.4 L680.0,291.5 L673.7,291.0 L662.0,270.0Z" fill="url(#redfade)"/><g clip-path="url(#navyclip)"><rect x="600" y="185" width="80" height="80" fill="#ff1800" filter="url(#dotsA)"/></g><g clip-path="url(#fieldclip)"><rect x="640" y="185" width="60" height="110" fill="url(#navyfade)" filter="url(#dotsB)"/></g><g clip-path="url(#fieldclip)"><rect x="650" y="185" width="110" height="110" fill="#ff2800" filter="url(#dotsC)"/></g><g clip-path="url(#fieldclip)"><rect x="690" y="200" width="70" height="95" fill="#ff8a20" filter="url(#dotsD)"/></g></g>
<path d="M688,214 L699,192 L700.5,193 L690,215Z" fill="#fff"/>
<path d="M667.6,261 L606.3,204.5 L612,207 L635,222 L660,250Z" fill="#06068a"/>
<path d="M609.8,265.5 L620.7,264.5 L657.9,262.4 L661.0,265.5 L648.6,272.0 L624.0,281.0 L622.0,274.0 L614.5,269.7Z" fill="#0808a0"/>
<path d="M661.5,266.8 L626.0,286.7 L619.7,288.3 L623.8,282.2 L648.6,273.2Z" fill="#0808a0"/>
<path d="M660.5,268.5 L666.2,269.7 L672.4,281.0 L674.4,292.4 L657.0,283.4 L659.0,276.0Z" fill="#0a0a90"/>
<g clip-path="url(#stripclip)"><rect x="655" y="266" width="22" height="30" fill="#ff1800" filter="url(#dotsB)"/></g>
<path d="M655.0,290.8 L656.5,287.1 L674.4,296.0 L673.9,300.8 L665.0,297.6Z" fill="#000066"/>
<path d="M657.0,283.4 L674.4,292.4 L674.4,296.5 L656.5,287.5Z" fill="#ff0a00"/>
<path d="M674.5,297.0 L678.0,300.0 L679.5,305.0 L684.0,311.0 L686.0,316.0 L692.3,309.8 L695.5,312.5 L688.0,322.0 L686.5,325.5 L683.0,318.0 L679.0,311.0 L675.5,305.0Z" fill="#ff0a00"/>
<path d="M686.5,325.5 L695.5,315 L694,312.5 L686,320.5Z" fill="#000066"/>
<path d="M675.5,305.5 L679.7,309.7 L681,313 L677,311Z" fill="#000066"/>
<path d="M681,309 L684,313 L685,317 L682,314Z" fill="#000066"/>
<path d="M712.5,346.0 L716.0,343.5 L720.0,344.0 L723.5,342.5 L724.0,348.0 L722.5,353.0 L718.0,355.5 L715.0,355.0 L713.0,350.0Z" fill="#000066"/>
<path d="M712.5,346.0 L716.0,343.5 L720.0,344.0 L723.5,342.5 L724.0,348.0 L722.5,353.0 L718.0,355.5 L715.0,355.0 L713.0,350.0Z" fill="#ff0a00" transform="translate(-1.5,-5)" clip-path="url(#chclip)"/>
<path d="M725.3,355.2 L731.0,359.8 L736.0,358.5 L741.4,359.3 L746.0,365.0 L742.0,368.0 L739.3,369.1 L735.0,366.0 L732.0,362.9 L728.0,359.0Z" fill="#000066"/>
<path d="M725.3,355.2 L731.0,359.8 L736.0,358.5 L741.4,359.3 L746.0,365.0 L742.0,368.0 L739.3,369.1 L735.0,366.0 L732.0,362.9 L728.0,359.0Z" fill="#ff0a00" transform="translate(-1.5,-5)" clip-path="url(#chclip)"/>
<path d="M748.6,366.0 L752.8,361.9 L757.9,364.0 L764.1,357.8 L769.3,353.1 L775.5,351.6 L777.6,354.1 L773.4,360.9 L764.1,368.1 L753.8,373.3 L750.7,369.1Z" fill="#000066"/>
<path d="M748.6,366.0 L752.8,361.9 L757.9,364.0 L764.1,357.8 L769.3,353.1 L775.5,351.6 L777.6,354.1 L773.4,360.9 L764.1,368.1 L753.8,373.3 L750.7,369.1Z" fill="#ff0a00" transform="translate(-1.5,-5)" clip-path="url(#chclip)"/>
<path d="M719,338 L721,337.5 L722,341 L720,342Z" fill="#ff0a00"/>
<path d="M706,333 L707.5,336 L706.5,338 L705,335Z" fill="#ff0a00"/>
<path d="M487,307 L491,306.5 L498,318 L504,326 L503,329 L499,328 L493,320 L488,312Z" fill="#00006a"/>
<path d="M493,310 L496,311 L500,320 L504,325 L502,329 L499,327 L496,320Z" fill="#ff1000"/>
<circle cx="667.6" cy="261" r="7.5" fill="#fff"/></g>
<defs>
<clipPath id="navyclip"><path d="M667.6,261.0 L606.3,204.5 L611.0,207.6 L615.8,208.4 L620.5,210.0 L628.4,209.2 L630.8,205.3 L634.8,199.0 L641.9,195.8 L647.4,195.0 L655.3,191.8 L663.2,190.0 L672.7,189.8 L668.0,216.0 L664.0,250.0Z"/></clipPath>
<clipPath id="stripclip"><path d="M660.5,268.5 L666.2,269.7 L672.4,281 L674.4,292.4 L657,283.4 L659,276Z"/></clipPath>
<clipPath id="chclip"><path d="M712.5,346 L716,343.5 L720,344 L723.5,342.5 L724,348 L722.5,353 L718,355.5 L715,355 L713,350Z M725.3,355.2 L731,359.8 L736,358.5 L741.4,359.3 L746,365 L742,368 L739.3,369.1 L735,366 L732,362.9 L728,359Z M748.6,366 L752.8,361.9 L757.9,364 L764.1,357.8 L769.3,353.1 L775.5,351.6 L777.6,354.1 L773.4,360.9 L764.1,368.1 L753.8,373.3 L750.7,369.1Z"/></clipPath>
<clipPath id="fieldclip"><path d="M661.0,256.0 L662.0,226.0 L656.0,207.0 L650.0,196.0 L663.2,191.0 L672.7,190.8 L683.7,194.8 L695.8,198.7 L703.5,201.6 L713.2,207.4 L722.8,215.1 L730.5,220.9 L736.3,226.7 L747.9,223.8 L750.8,228.6 L747.9,234.4 L751.8,240.2 L753.7,247.9 L747.9,255.6 L734.4,258.5 L738.3,265.3 L744.0,271.1 L749.8,280.7 L751.8,292.3 L738.3,288.5 L724.7,286.5 L709.3,286.5 L695.8,290.4 L680.0,291.5 L673.7,291.0 L662.0,270.0Z"/></clipPath>
<linearGradient id="navyfade" gradientUnits="userSpaceOnUse" x1="650" y1="0" x2="695" y2="0">
  <stop offset="0" stop-color="#00007a" stop-opacity="1"/>
  <stop offset="1" stop-color="#00007a" stop-opacity="0"/>
</linearGradient>
<linearGradient id="redfade" gradientUnits="userSpaceOnUse" x1="650" y1="0" x2="700" y2="0">
  <stop offset="0" stop-color="#ff1000" stop-opacity="1"/>
  <stop offset="0.5" stop-color="#ff1800" stop-opacity="0.8"/>
  <stop offset="1" stop-color="#ff2000" stop-opacity="0"/>
</linearGradient>
<filter id="ragged" x="-10%" y="-10%" width="120%" height="120%">
  <feTurbulence type="fractalNoise" baseFrequency="0.35" numOctaves="2" seed="4" result="t"/>
  <feDisplacementMap in="SourceGraphic" in2="t" scale="9" xChannelSelector="R" yChannelSelector="G"/>
</filter>
<filter id="holes" x="-8%" y="-8%" width="116%" height="116%" color-interpolation-filters="sRGB">
  <feTurbulence type="fractalNoise" baseFrequency="0.3" numOctaves="2" seed="4" result="t"/>
  <feDisplacementMap in="SourceGraphic" in2="t" scale="6" xChannelSelector="R" yChannelSelector="G" result="d"/>
  <feGaussianBlur in="d" stdDeviation="5" result="bl"/>
  <feColorMatrix in="bl" type="matrix" values="0 0 0 1 0  0 0 0 1 0  0 0 0 1 0  0 0 0 0 1" result="ba"/>
  <feTurbulence type="fractalNoise" baseFrequency="0.5" numOctaves="1" seed="8" result="n0"/>
  <feColorMatrix in="n0" type="matrix" values="2.6 0 0 0 -0.8  2.6 0 0 0 -0.8  2.6 0 0 0 -0.8  0 0 0 0 1" result="n"/>
  <feComposite in="ba" in2="n" operator="arithmetic" k1="0" k2="1" k3="1" k4="-0.85" result="s"/>
  <feColorMatrix in="s" type="matrix" values="0 0 0 0 0  0 0 0 0 0  0 0 0 0 0  12 0 0 0 0" result="m"/>
  <feComposite in="d" in2="m" operator="in"/>
</filter>
<filter id="dotsD" x="0" y="0" width="100%" height="100%">
  <feTurbulence type="fractalNoise" baseFrequency="0.6" numOctaves="1" seed="29" result="t"/>
  <feColorMatrix in="t" type="matrix" values="0 0 0 0 0  0 0 0 0 0  0 0 0 0 0  20 0 0 0 -12" result="m"/>
  <feComposite in="SourceGraphic" in2="m" operator="in"/>
</filter>
<filter id="ragged2" x="-10%" y="-10%" width="120%" height="120%">
  <feTurbulence type="fractalNoise" baseFrequency="0.4" numOctaves="1" seed="9" result="t"/>
  <feDisplacementMap in="SourceGraphic" in2="t" scale="5" xChannelSelector="R" yChannelSelector="G"/>
</filter>
<filter id="dotsA" x="0" y="0" width="100%" height="100%">
  <feTurbulence type="fractalNoise" baseFrequency="0.55" numOctaves="1" seed="21" result="t"/>
  <feColorMatrix in="t" type="matrix" values="0 0 0 0 0  0 0 0 0 0  0 0 0 0 0  20 0 0 0 -12.4" result="m"/>
  <feComposite in="SourceGraphic" in2="m" operator="in"/>
</filter>
<filter id="dotsB" x="0" y="0" width="100%" height="100%">
  <feTurbulence type="fractalNoise" baseFrequency="0.5" numOctaves="1" seed="22" result="t"/>
  <feColorMatrix in="t" type="matrix" values="0 0 0 0 0  0 0 0 0 0  0 0 0 0 0  20 0 0 0 -10.5" result="m"/>
  <feComposite in="SourceGraphic" in2="m" operator="in"/>
</filter>
<filter id="dotsC" x="0" y="0" width="100%" height="100%">
  <feTurbulence type="fractalNoise" baseFrequency="0.6" numOctaves="1" seed="23" result="t"/>
  <feColorMatrix in="t" type="matrix" values="0 0 0 0 0  0 0 0 0 0  0 0 0 0 0  20 0 0 0 -12" result="m"/>
  <feComposite in="SourceGraphic" in2="m" operator="in"/>
</filter>
</defs>
<rect x="59.0" y="74.4" width="374.6" height="374.6" fill="none" stroke="#000" stroke-width="2"/>
<line x1="59.00" y1="74.4" x2="59.00" y2="60.00" stroke="#000" stroke-width="2"/>
<line x1="59.00" y1="449.0" x2="59.00" y2="463.40" stroke="#000" stroke-width="2"/>
<line x1="59.0" y1="449.00" x2="44.60" y2="449.00" stroke="#000" stroke-width="2"/>
<line x1="433.6" y1="449.00" x2="448.00" y2="449.00" stroke="#000" stroke-width="2"/>
<line x1="74.61" y1="74.4" x2="74.61" y2="67.40" stroke="#222" stroke-width="1.6"/>
<line x1="74.61" y1="449.0" x2="74.61" y2="456.00" stroke="#222" stroke-width="1.6"/>
<line x1="59.0" y1="433.39" x2="52.00" y2="433.39" stroke="#222" stroke-width="1.6"/>
<line x1="433.6" y1="433.39" x2="440.60" y2="433.39" stroke="#222" stroke-width="1.6"/>
<line x1="90.22" y1="74.4" x2="90.22" y2="67.40" stroke="#222" stroke-width="1.6"/>
<line x1="90.22" y1="449.0" x2="90.22" y2="456.00" stroke="#222" stroke-width="1.6"/>
<line x1="59.0" y1="417.78" x2="52.00" y2="417.78" stroke="#222" stroke-width="1.6"/>
<line x1="433.6" y1="417.78" x2="440.60" y2="417.78" stroke="#222" stroke-width="1.6"/>
<line x1="105.83" y1="74.4" x2="105.83" y2="67.40" stroke="#222" stroke-width="1.6"/>
<line x1="105.83" y1="449.0" x2="105.83" y2="456.00" stroke="#222" stroke-width="1.6"/>
<line x1="59.0" y1="402.18" x2="52.00" y2="402.18" stroke="#222" stroke-width="1.6"/>
<line x1="433.6" y1="402.18" x2="440.60" y2="402.18" stroke="#222" stroke-width="1.6"/>
<line x1="121.43" y1="74.4" x2="121.43" y2="67.40" stroke="#222" stroke-width="1.6"/>
<line x1="121.43" y1="449.0" x2="121.43" y2="456.00" stroke="#222" stroke-width="1.6"/>
<line x1="59.0" y1="386.57" x2="52.00" y2="386.57" stroke="#222" stroke-width="1.6"/>
<line x1="433.6" y1="386.57" x2="440.60" y2="386.57" stroke="#222" stroke-width="1.6"/>
<line x1="137.04" y1="74.4" x2="137.04" y2="67.40" stroke="#222" stroke-width="1.6"/>
<line x1="137.04" y1="449.0" x2="137.04" y2="456.00" stroke="#222" stroke-width="1.6"/>
<line x1="59.0" y1="370.96" x2="52.00" y2="370.96" stroke="#222" stroke-width="1.6"/>
<line x1="433.6" y1="370.96" x2="440.60" y2="370.96" stroke="#222" stroke-width="1.6"/>
<line x1="152.65" y1="74.4" x2="152.65" y2="60.00" stroke="#000" stroke-width="2"/>
<line x1="152.65" y1="449.0" x2="152.65" y2="463.40" stroke="#000" stroke-width="2"/>
<line x1="59.0" y1="355.35" x2="44.60" y2="355.35" stroke="#000" stroke-width="2"/>
<line x1="433.6" y1="355.35" x2="448.00" y2="355.35" stroke="#000" stroke-width="2"/>
<line x1="168.26" y1="74.4" x2="168.26" y2="67.40" stroke="#222" stroke-width="1.6"/>
<line x1="168.26" y1="449.0" x2="168.26" y2="456.00" stroke="#222" stroke-width="1.6"/>
<line x1="59.0" y1="339.74" x2="52.00" y2="339.74" stroke="#222" stroke-width="1.6"/>
<line x1="433.6" y1="339.74" x2="440.60" y2="339.74" stroke="#222" stroke-width="1.6"/>
<line x1="183.87" y1="74.4" x2="183.87" y2="67.40" stroke="#222" stroke-width="1.6"/>
<line x1="183.87" y1="449.0" x2="183.87" y2="456.00" stroke="#222" stroke-width="1.6"/>
<line x1="59.0" y1="324.13" x2="52.00" y2="324.13" stroke="#222" stroke-width="1.6"/>
<line x1="433.6" y1="324.13" x2="440.60" y2="324.13" stroke="#222" stroke-width="1.6"/>
<line x1="199.48" y1="74.4" x2="199.48" y2="67.40" stroke="#222" stroke-width="1.6"/>
<line x1="199.48" y1="449.0" x2="199.48" y2="456.00" stroke="#222" stroke-width="1.6"/>
<line x1="59.0" y1="308.52" x2="52.00" y2="308.52" stroke="#222" stroke-width="1.6"/>
<line x1="433.6" y1="308.52" x2="440.60" y2="308.52" stroke="#222" stroke-width="1.6"/>
<line x1="215.08" y1="74.4" x2="215.08" y2="67.40" stroke="#222" stroke-width="1.6"/>
<line x1="215.08" y1="449.0" x2="215.08" y2="456.00" stroke="#222" stroke-width="1.6"/>
<line x1="59.0" y1="292.92" x2="52.00" y2="292.92" stroke="#222" stroke-width="1.6"/>
<line x1="433.6" y1="292.92" x2="440.60" y2="292.92" stroke="#222" stroke-width="1.6"/>
<line x1="230.69" y1="74.4" x2="230.69" y2="67.40" stroke="#222" stroke-width="1.6"/>
<line x1="230.69" y1="449.0" x2="230.69" y2="456.00" stroke="#222" stroke-width="1.6"/>
<line x1="59.0" y1="277.31" x2="52.00" y2="277.31" stroke="#222" stroke-width="1.6"/>
<line x1="433.6" y1="277.31" x2="440.60" y2="277.31" stroke="#222" stroke-width="1.6"/>
<line x1="246.30" y1="74.4" x2="246.30" y2="60.00" stroke="#000" stroke-width="2"/>
<line x1="246.30" y1="449.0" x2="246.30" y2="463.40" stroke="#000" stroke-width="2"/>
<line x1="59.0" y1="261.70" x2="44.60" y2="261.70" stroke="#000" stroke-width="2"/>
<line x1="433.6" y1="261.70" x2="448.00" y2="261.70" stroke="#000" stroke-width="2"/>
<line x1="261.91" y1="74.4" x2="261.91" y2="67.40" stroke="#222" stroke-width="1.6"/>
<line x1="261.91" y1="449.0" x2="261.91" y2="456.00" stroke="#222" stroke-width="1.6"/>
<line x1="59.0" y1="246.09" x2="52.00" y2="246.09" stroke="#222" stroke-width="1.6"/>
<line x1="433.6" y1="246.09" x2="440.60" y2="246.09" stroke="#222" stroke-width="1.6"/>
<line x1="277.52" y1="74.4" x2="277.52" y2="67.40" stroke="#222" stroke-width="1.6"/>
<line x1="277.52" y1="449.0" x2="277.52" y2="456.00" stroke="#222" stroke-width="1.6"/>
<line x1="59.0" y1="230.48" x2="52.00" y2="230.48" stroke="#222" stroke-width="1.6"/>
<line x1="433.6" y1="230.48" x2="440.60" y2="230.48" stroke="#222" stroke-width="1.6"/>
<line x1="293.12" y1="74.4" x2="293.12" y2="67.40" stroke="#222" stroke-width="1.6"/>
<line x1="293.12" y1="449.0" x2="293.12" y2="456.00" stroke="#222" stroke-width="1.6"/>
<line x1="59.0" y1="214.88" x2="52.00" y2="214.88" stroke="#222" stroke-width="1.6"/>
<line x1="433.6" y1="214.88" x2="440.60" y2="214.88" stroke="#222" stroke-width="1.6"/>
<line x1="308.73" y1="74.4" x2="308.73" y2="67.40" stroke="#222" stroke-width="1.6"/>
<line x1="308.73" y1="449.0" x2="308.73" y2="456.00" stroke="#222" stroke-width="1.6"/>
<line x1="59.0" y1="199.27" x2="52.00" y2="199.27" stroke="#222" stroke-width="1.6"/>
<line x1="433.6" y1="199.27" x2="440.60" y2="199.27" stroke="#222" stroke-width="1.6"/>
<line x1="324.34" y1="74.4" x2="324.34" y2="67.40" stroke="#222" stroke-width="1.6"/>
<line x1="324.34" y1="449.0" x2="324.34" y2="456.00" stroke="#222" stroke-width="1.6"/>
<line x1="59.0" y1="183.66" x2="52.00" y2="183.66" stroke="#222" stroke-width="1.6"/>
<line x1="433.6" y1="183.66" x2="440.60" y2="183.66" stroke="#222" stroke-width="1.6"/>
<line x1="339.95" y1="74.4" x2="339.95" y2="60.00" stroke="#000" stroke-width="2"/>
<line x1="339.95" y1="449.0" x2="339.95" y2="463.40" stroke="#000" stroke-width="2"/>
<line x1="59.0" y1="168.05" x2="44.60" y2="168.05" stroke="#000" stroke-width="2"/>
<line x1="433.6" y1="168.05" x2="448.00" y2="168.05" stroke="#000" stroke-width="2"/>
<line x1="355.56" y1="74.4" x2="355.56" y2="67.40" stroke="#222" stroke-width="1.6"/>
<line x1="355.56" y1="449.0" x2="355.56" y2="456.00" stroke="#222" stroke-width="1.6"/>
<line x1="59.0" y1="152.44" x2="52.00" y2="152.44" stroke="#222" stroke-width="1.6"/>
<line x1="433.6" y1="152.44" x2="440.60" y2="152.44" stroke="#222" stroke-width="1.6"/>
<line x1="371.17" y1="74.4" x2="371.17" y2="67.40" stroke="#222" stroke-width="1.6"/>
<line x1="371.17" y1="449.0" x2="371.17" y2="456.00" stroke="#222" stroke-width="1.6"/>
<line x1="59.0" y1="136.83" x2="52.00" y2="136.83" stroke="#222" stroke-width="1.6"/>
<line x1="433.6" y1="136.83" x2="440.60" y2="136.83" stroke="#222" stroke-width="1.6"/>
<line x1="386.78" y1="74.4" x2="386.78" y2="67.40" stroke="#222" stroke-width="1.6"/>
<line x1="386.78" y1="449.0" x2="386.78" y2="456.00" stroke="#222" stroke-width="1.6"/>
<line x1="59.0" y1="121.23" x2="52.00" y2="121.23" stroke="#222" stroke-width="1.6"/>
<line x1="433.6" y1="121.23" x2="440.60" y2="121.23" stroke="#222" stroke-width="1.6"/>
<line x1="402.38" y1="74.4" x2="402.38" y2="67.40" stroke="#222" stroke-width="1.6"/>
<line x1="402.38" y1="449.0" x2="402.38" y2="456.00" stroke="#222" stroke-width="1.6"/>
<line x1="59.0" y1="105.62" x2="52.00" y2="105.62" stroke="#222" stroke-width="1.6"/>
<line x1="433.6" y1="105.62" x2="440.60" y2="105.62" stroke="#222" stroke-width="1.6"/>
<line x1="417.99" y1="74.4" x2="417.99" y2="67.40" stroke="#222" stroke-width="1.6"/>
<line x1="417.99" y1="449.0" x2="417.99" y2="456.00" stroke="#222" stroke-width="1.6"/>
<line x1="59.0" y1="90.01" x2="52.00" y2="90.01" stroke="#222" stroke-width="1.6"/>
<line x1="433.6" y1="90.01" x2="440.60" y2="90.01" stroke="#222" stroke-width="1.6"/>
<line x1="433.60" y1="74.4" x2="433.60" y2="60.00" stroke="#000" stroke-width="2"/>
<line x1="433.60" y1="449.0" x2="433.60" y2="463.40" stroke="#000" stroke-width="2"/>
<line x1="59.0" y1="74.40" x2="44.60" y2="74.40" stroke="#000" stroke-width="2"/>
<line x1="433.6" y1="74.40" x2="448.00" y2="74.40" stroke="#000" stroke-width="2"/>
<rect x="480.1" y="74.4" width="374.6" height="374.6" fill="none" stroke="#000" stroke-width="2"/>
<line x1="480.10" y1="74.4" x2="480.10" y2="60.00" stroke="#000" stroke-width="2"/>
<line x1="480.10" y1="449.0" x2="480.10" y2="463.40" stroke="#000" stroke-width="2"/>
<line x1="480.1" y1="449.00" x2="465.70" y2="449.00" stroke="#000" stroke-width="2"/>
<line x1="854.7" y1="449.00" x2="869.10" y2="449.00" stroke="#000" stroke-width="2"/>
<line x1="495.71" y1="74.4" x2="495.71" y2="67.40" stroke="#222" stroke-width="1.6"/>
<line x1="495.71" y1="449.0" x2="495.71" y2="456.00" stroke="#222" stroke-width="1.6"/>
<line x1="480.1" y1="433.39" x2="473.10" y2="433.39" stroke="#222" stroke-width="1.6"/>
<line x1="854.7" y1="433.39" x2="861.70" y2="433.39" stroke="#222" stroke-width="1.6"/>
<line x1="511.32" y1="74.4" x2="511.32" y2="67.40" stroke="#222" stroke-width="1.6"/>
<line x1="511.32" y1="449.0" x2="511.32" y2="456.00" stroke="#222" stroke-width="1.6"/>
<line x1="480.1" y1="417.78" x2="473.10" y2="417.78" stroke="#222" stroke-width="1.6"/>
<line x1="854.7" y1="417.78" x2="861.70" y2="417.78" stroke="#222" stroke-width="1.6"/>
<line x1="526.93" y1="74.4" x2="526.93" y2="67.40" stroke="#222" stroke-width="1.6"/>
<line x1="526.93" y1="449.0" x2="526.93" y2="456.00" stroke="#222" stroke-width="1.6"/>
<line x1="480.1" y1="402.18" x2="473.10" y2="402.18" stroke="#222" stroke-width="1.6"/>
<line x1="854.7" y1="402.18" x2="861.70" y2="402.18" stroke="#222" stroke-width="1.6"/>
<line x1="542.53" y1="74.4" x2="542.53" y2="67.40" stroke="#222" stroke-width="1.6"/>
<line x1="542.53" y1="449.0" x2="542.53" y2="456.00" stroke="#222" stroke-width="1.6"/>
<line x1="480.1" y1="386.57" x2="473.10" y2="386.57" stroke="#222" stroke-width="1.6"/>
<line x1="854.7" y1="386.57" x2="861.70" y2="386.57" stroke="#222" stroke-width="1.6"/>
<line x1="558.14" y1="74.4" x2="558.14" y2="67.40" stroke="#222" stroke-width="1.6"/>
<line x1="558.14" y1="449.0" x2="558.14" y2="456.00" stroke="#222" stroke-width="1.6"/>
<line x1="480.1" y1="370.96" x2="473.10" y2="370.96" stroke="#222" stroke-width="1.6"/>
<line x1="854.7" y1="370.96" x2="861.70" y2="370.96" stroke="#222" stroke-width="1.6"/>
<line x1="573.75" y1="74.4" x2="573.75" y2="60.00" stroke="#000" stroke-width="2"/>
<line x1="573.75" y1="449.0" x2="573.75" y2="463.40" stroke="#000" stroke-width="2"/>
<line x1="480.1" y1="355.35" x2="465.70" y2="355.35" stroke="#000" stroke-width="2"/>
<line x1="854.7" y1="355.35" x2="869.10" y2="355.35" stroke="#000" stroke-width="2"/>
<line x1="589.36" y1="74.4" x2="589.36" y2="67.40" stroke="#222" stroke-width="1.6"/>
<line x1="589.36" y1="449.0" x2="589.36" y2="456.00" stroke="#222" stroke-width="1.6"/>
<line x1="480.1" y1="339.74" x2="473.10" y2="339.74" stroke="#222" stroke-width="1.6"/>
<line x1="854.7" y1="339.74" x2="861.70" y2="339.74" stroke="#222" stroke-width="1.6"/>
<line x1="604.97" y1="74.4" x2="604.97" y2="67.40" stroke="#222" stroke-width="1.6"/>
<line x1="604.97" y1="449.0" x2="604.97" y2="456.00" stroke="#222" stroke-width="1.6"/>
<line x1="480.1" y1="324.13" x2="473.10" y2="324.13" stroke="#222" stroke-width="1.6"/>
<line x1="854.7" y1="324.13" x2="861.70" y2="324.13" stroke="#222" stroke-width="1.6"/>
<line x1="620.58" y1="74.4" x2="620.58" y2="67.40" stroke="#222" stroke-width="1.6"/>
<line x1="620.58" y1="449.0" x2="620.58" y2="456.00" stroke="#222" stroke-width="1.6"/>
<line x1="480.1" y1="308.52" x2="473.10" y2="308.52" stroke="#222" stroke-width="1.6"/>
<line x1="854.7" y1="308.52" x2="861.70" y2="308.52" stroke="#222" stroke-width="1.6"/>
<line x1="636.18" y1="74.4" x2="636.18" y2="67.40" stroke="#222" stroke-width="1.6"/>
<line x1="636.18" y1="449.0" x2="636.18" y2="456.00" stroke="#222" stroke-width="1.6"/>
<line x1="480.1" y1="292.92" x2="473.10" y2="292.92" stroke="#222" stroke-width="1.6"/>
<line x1="854.7" y1="292.92" x2="861.70" y2="292.92" stroke="#222" stroke-width="1.6"/>
<line x1="651.79" y1="74.4" x2="651.79" y2="67.40" stroke="#222" stroke-width="1.6"/>
<line x1="651.79" y1="449.0" x2="651.79" y2="456.00" stroke="#222" stroke-width="1.6"/>
<line x1="480.1" y1="277.31" x2="473.10" y2="277.31" stroke="#222" stroke-width="1.6"/>
<line x1="854.7" y1="277.31" x2="861.70" y2="277.31" stroke="#222" stroke-width="1.6"/>
<line x1="667.40" y1="74.4" x2="667.40" y2="60.00" stroke="#000" stroke-width="2"/>
<line x1="667.40" y1="449.0" x2="667.40" y2="463.40" stroke="#000" stroke-width="2"/>
<line x1="480.1" y1="261.70" x2="465.70" y2="261.70" stroke="#000" stroke-width="2"/>
<line x1="854.7" y1="261.70" x2="869.10" y2="261.70" stroke="#000" stroke-width="2"/>
<line x1="683.01" y1="74.4" x2="683.01" y2="67.40" stroke="#222" stroke-width="1.6"/>
<line x1="683.01" y1="449.0" x2="683.01" y2="456.00" stroke="#222" stroke-width="1.6"/>
<line x1="480.1" y1="246.09" x2="473.10" y2="246.09" stroke="#222" stroke-width="1.6"/>
<line x1="854.7" y1="246.09" x2="861.70" y2="246.09" stroke="#222" stroke-width="1.6"/>
<line x1="698.62" y1="74.4" x2="698.62" y2="67.40" stroke="#222" stroke-width="1.6"/>
<line x1="698.62" y1="449.0" x2="698.62" y2="456.00" stroke="#222" stroke-width="1.6"/>
<line x1="480.1" y1="230.48" x2="473.10" y2="230.48" stroke="#222" stroke-width="1.6"/>
<line x1="854.7" y1="230.48" x2="861.70" y2="230.48" stroke="#222" stroke-width="1.6"/>
<line x1="714.23" y1="74.4" x2="714.23" y2="67.40" stroke="#222" stroke-width="1.6"/>
<line x1="714.23" y1="449.0" x2="714.23" y2="456.00" stroke="#222" stroke-width="1.6"/>
<line x1="480.1" y1="214.88" x2="473.10" y2="214.88" stroke="#222" stroke-width="1.6"/>
<line x1="854.7" y1="214.88" x2="861.70" y2="214.88" stroke="#222" stroke-width="1.6"/>
<line x1="729.83" y1="74.4" x2="729.83" y2="67.40" stroke="#222" stroke-width="1.6"/>
<line x1="729.83" y1="449.0" x2="729.83" y2="456.00" stroke="#222" stroke-width="1.6"/>
<line x1="480.1" y1="199.27" x2="473.10" y2="199.27" stroke="#222" stroke-width="1.6"/>
<line x1="854.7" y1="199.27" x2="861.70" y2="199.27" stroke="#222" stroke-width="1.6"/>
<line x1="745.44" y1="74.4" x2="745.44" y2="67.40" stroke="#222" stroke-width="1.6"/>
<line x1="745.44" y1="449.0" x2="745.44" y2="456.00" stroke="#222" stroke-width="1.6"/>
<line x1="480.1" y1="183.66" x2="473.10" y2="183.66" stroke="#222" stroke-width="1.6"/>
<line x1="854.7" y1="183.66" x2="861.70" y2="183.66" stroke="#222" stroke-width="1.6"/>
<line x1="761.05" y1="74.4" x2="761.05" y2="60.00" stroke="#000" stroke-width="2"/>
<line x1="761.05" y1="449.0" x2="761.05" y2="463.40" stroke="#000" stroke-width="2"/>
<line x1="480.1" y1="168.05" x2="465.70" y2="168.05" stroke="#000" stroke-width="2"/>
<line x1="854.7" y1="168.05" x2="869.10" y2="168.05" stroke="#000" stroke-width="2"/>
<line x1="776.66" y1="74.4" x2="776.66" y2="67.40" stroke="#222" stroke-width="1.6"/>
<line x1="776.66" y1="449.0" x2="776.66" y2="456.00" stroke="#222" stroke-width="1.6"/>
<line x1="480.1" y1="152.44" x2="473.10" y2="152.44" stroke="#222" stroke-width="1.6"/>
<line x1="854.7" y1="152.44" x2="861.70" y2="152.44" stroke="#222" stroke-width="1.6"/>
<line x1="792.27" y1="74.4" x2="792.27" y2="67.40" stroke="#222" stroke-width="1.6"/>
<line x1="792.27" y1="449.0" x2="792.27" y2="456.00" stroke="#222" stroke-width="1.6"/>
<line x1="480.1" y1="136.83" x2="473.10" y2="136.83" stroke="#222" stroke-width="1.6"/>
<line x1="854.7" y1="136.83" x2="861.70" y2="136.83" stroke="#222" stroke-width="1.6"/>
<line x1="807.88" y1="74.4" x2="807.88" y2="67.40" stroke="#222" stroke-width="1.6"/>
<line x1="807.88" y1="449.0" x2="807.88" y2="456.00" stroke="#222" stroke-width="1.6"/>
<line x1="480.1" y1="121.23" x2="473.10" y2="121.23" stroke="#222" stroke-width="1.6"/>
<line x1="854.7" y1="121.23" x2="861.70" y2="121.23" stroke="#222" stroke-width="1.6"/>
<line x1="823.48" y1="74.4" x2="823.48" y2="67.40" stroke="#222" stroke-width="1.6"/>
<line x1="823.48" y1="449.0" x2="823.48" y2="456.00" stroke="#222" stroke-width="1.6"/>
<line x1="480.1" y1="105.62" x2="473.10" y2="105.62" stroke="#222" stroke-width="1.6"/>
<line x1="854.7" y1="105.62" x2="861.70" y2="105.62" stroke="#222" stroke-width="1.6"/>
<line x1="839.09" y1="74.4" x2="839.09" y2="67.40" stroke="#222" stroke-width="1.6"/>
<line x1="839.09" y1="449.0" x2="839.09" y2="456.00" stroke="#222" stroke-width="1.6"/>
<line x1="480.1" y1="90.01" x2="473.10" y2="90.01" stroke="#222" stroke-width="1.6"/>
<line x1="854.7" y1="90.01" x2="861.70" y2="90.01" stroke="#222" stroke-width="1.6"/>
<line x1="854.70" y1="74.4" x2="854.70" y2="60.00" stroke="#000" stroke-width="2"/>
<line x1="854.70" y1="449.0" x2="854.70" y2="463.40" stroke="#000" stroke-width="2"/>
<line x1="480.1" y1="74.40" x2="465.70" y2="74.40" stroke="#000" stroke-width="2"/>
<line x1="854.7" y1="74.40" x2="869.10" y2="74.40" stroke="#000" stroke-width="2"/>
<text transform="translate(60.80,24.70) scale(0.765,1.024)" font-size="31.97" stroke="#000" stroke-width="0.78">F</text>
<text transform="translate(77.52,24.70) scale(1.001,1.012)" font-size="31.97" stroke="#000" stroke-width="0.70">u</text>
<text transform="translate(98.22,24.70) scale(1.068,1.033)" font-size="31.97" stroke="#000" stroke-width="0.67">k</text>
<text transform="translate(118.35,24.70) scale(1.001,1.012)" font-size="31.97" stroke="#000" stroke-width="0.70">u</text>
<text transform="translate(139.19,24.70) scale(0.954,1.012)" font-size="31.97" stroke="#000" stroke-width="0.71">o</text>
<text transform="translate(158.85,24.70) scale(1.068,1.033)" font-size="31.97" stroke="#000" stroke-width="0.67">k</text>
<text transform="translate(179.11,24.70) scale(0.874,1.017)" font-size="31.97" stroke="#000" stroke-width="0.74">a</text>
<text transform="translate(196.09,24.70) scale(1.236,0.694)" font-size="31.97" stroke="#000" stroke-width="0.73">,</text>
<text transform="translate(215.64,24.70) scale(0.996,1.024)" font-size="31.97" stroke="#000" stroke-width="0.69">2</text>
<text transform="translate(233.55,24.70) scale(1.007,1.024)" font-size="31.97" stroke="#000" stroke-width="0.69">0</text>
<text transform="translate(252.47,24.70) scale(0.711,1.024)" font-size="31.97" stroke="#000" stroke-width="0.81">1</text>
<text transform="translate(270.15,24.70) scale(0.991,1.020)" font-size="31.97" stroke="#000" stroke-width="0.70">9</text>
<text transform="translate(288.30,24.70) scale(1.007,1.024)" font-size="31.97" stroke="#000" stroke-width="0.69">0</text>
<text transform="translate(306.18,24.70) scale(1.044,1.020)" font-size="31.97" stroke="#000" stroke-width="0.68">7</text>
<text transform="translate(324.80,24.70) scale(1.007,1.024)" font-size="31.97" stroke="#000" stroke-width="0.69">0</text>
<text transform="translate(343.32,24.70) scale(0.964,1.024)" font-size="31.97" stroke="#000" stroke-width="0.70">4</text>
<text transform="translate(370.60,24.70) scale(0.804,0.971)" font-size="31.97" stroke="#000" stroke-width="0.79">[</text>
<text transform="translate(380.19,24.70) scale(1.007,1.024)" font-size="31.97" stroke="#000" stroke-width="0.69">0</text>
<text transform="translate(398.70,24.70) scale(0.964,1.024)" font-size="31.97" stroke="#000" stroke-width="0.70">4</text>
<text transform="translate(415.54,24.70) scale(1.039,1.077)" font-size="31.97" stroke="#000" stroke-width="0.66">:</text>
<text transform="translate(426.13,24.70) scale(0.996,1.024)" font-size="31.97" stroke="#000" stroke-width="0.69">2</text>
<text transform="translate(444.73,24.70) scale(0.951,1.024)" font-size="31.97" stroke="#000" stroke-width="0.71">3</text>
<text transform="translate(460.66,24.70) scale(1.236,0.694)" font-size="31.97" stroke="#000" stroke-width="0.73">,</text>
<text transform="translate(480.21,24.70) scale(0.996,1.012)" font-size="31.97" stroke="#000" stroke-width="0.70">e</text>
<text transform="translate(499.33,24.70) scale(0.932,1.033)" font-size="31.97" stroke="#000" stroke-width="0.71">l</text>
<text transform="translate(508.79,24.70) scale(0.926,0.940)" font-size="31.97" stroke="#000" stroke-width="0.75">=</text>
<text transform="translate(527.44,24.70) scale(0.711,1.024)" font-size="31.97" stroke="#000" stroke-width="0.81">1</text>
<text transform="translate(544.78,24.70) scale(1.039,0.944)" font-size="31.97" stroke="#000" stroke-width="0.71">.</text>
<text transform="translate(554.14,24.70) scale(1.007,1.024)" font-size="31.97" stroke="#000" stroke-width="0.69">0</text>
<text transform="translate(573.03,24.70) scale(0.814,0.971)" font-size="31.97" stroke="#000" stroke-width="0.78">]</text>
<text transform="translate(60.43,58.30) scale(0.736,1.021)" font-size="27.97" stroke="#000" stroke-width="0.80">S</text>
<text transform="translate(75.76,58.30) scale(1.034,1.022)" font-size="27.97" stroke="#000" stroke-width="0.68">N</text>
<text transform="translate(98.83,58.30) scale(0.862,1.022)" font-size="27.97" stroke="#000" stroke-width="0.74">R</text>
<text transform="translate(124.41,58.30) scale(0.792,0.969)" font-size="27.97" stroke="#000" stroke-width="0.79">[</text>
<text transform="translate(133.11,58.30) scale(0.960,1.031)" font-size="27.97" stroke="#000" stroke-width="0.70">d</text>
<text transform="translate(151.58,58.30) scale(0.828,1.022)" font-size="27.97" stroke="#000" stroke-width="0.76">B</text>
<text transform="translate(169.84,58.30) scale(0.802,0.969)" font-size="27.97" stroke="#000" stroke-width="0.79">]</text>
<text transform="translate(481.80,58.30) scale(0.927,1.022)" font-size="28.03" stroke="#000" stroke-width="0.72">D</text>
<text transform="translate(501.97,58.30) scale(0.948,1.009)" font-size="28.03" stroke="#000" stroke-width="0.72">o</text>
<text transform="translate(519.55,58.30) scale(0.960,1.005)" font-size="28.03" stroke="#000" stroke-width="0.71">p</text>
<text transform="translate(537.29,58.30) scale(0.960,1.005)" font-size="28.03" stroke="#000" stroke-width="0.71">p</text>
<text transform="translate(554.99,58.30) scale(0.909,1.031)" font-size="28.03" stroke="#000" stroke-width="0.72">l</text>
<text transform="translate(563.31,58.30) scale(0.990,1.009)" font-size="28.03" stroke="#000" stroke-width="0.70">e</text>
<text transform="translate(579.95,58.30) scale(1.065,1.009)" font-size="28.03" stroke="#000" stroke-width="0.68">r</text>
<text transform="translate(599.53,58.30) scale(0.958,1.022)" font-size="28.03" stroke="#000" stroke-width="0.71">V</text>
<text transform="translate(618.10,58.30) scale(0.990,1.009)" font-size="28.03" stroke="#000" stroke-width="0.70">e</text>
<text transform="translate(634.34,58.30) scale(0.909,1.031)" font-size="28.03" stroke="#000" stroke-width="0.72">l</text>
<text transform="translate(642.70,58.30) scale(0.948,1.009)" font-size="28.03" stroke="#000" stroke-width="0.72">o</text>
<text transform="translate(660.17,58.30) scale(0.846,1.009)" font-size="28.03" stroke="#000" stroke-width="0.75">c</text>
<text transform="translate(674.34,58.30) scale(1.000,1.031)" font-size="28.03" stroke="#000" stroke-width="0.69">i</text>
<text transform="translate(683.05,58.30) scale(1.155,0.992)" font-size="28.03" stroke="#000" stroke-width="0.65">t</text>
<text transform="translate(694.78,58.30) scale(1.000,1.010)" font-size="28.03" stroke="#000" stroke-width="0.70">y</text>
<text transform="translate(718.96,58.30) scale(0.793,0.969)" font-size="28.03" stroke="#000" stroke-width="0.79">[</text>
<text transform="translate(727.75,58.30) scale(1.056,1.009)" font-size="28.03" stroke="#000" stroke-width="0.68">m</text>
<text transform="translate(754.82,58.30) scale(1.456,0.969)" font-size="28.03" stroke="#000" stroke-width="0.58">/</text>
<text transform="translate(767.07,58.30) scale(0.813,1.009)" font-size="28.03" stroke="#000" stroke-width="0.77">s</text>
<text transform="translate(780.95,58.30) scale(0.802,0.969)" font-size="28.03" stroke="#000" stroke-width="0.79">]</text>
<text transform="translate(15.46,84.30) scale(0.995,1.018)" font-size="28.20" stroke="#000" stroke-width="0.70">6</text>
<text transform="translate(16.19,177.95) scale(0.945,1.022)" font-size="28.20" stroke="#000" stroke-width="0.71">3</text>
<text transform="translate(15.52,271.60) scale(1.000,1.022)" font-size="28.20" stroke="#000" stroke-width="0.69">0</text>
<text transform="translate(-0.27,365.25) scale(0.920,1.013)" font-size="28.20" stroke="#000" stroke-width="0.72">−</text>
<text transform="translate(16.19,365.25) scale(0.945,1.022)" font-size="28.20" stroke="#000" stroke-width="0.71">3</text>
<text transform="translate(-0.48,458.90) scale(0.920,1.013)" font-size="28.20" stroke="#000" stroke-width="0.72">−</text>
<text transform="translate(15.46,458.90) scale(0.995,1.018)" font-size="28.20" stroke="#000" stroke-width="0.70">6</text>
<text transform="translate(43.18,499.30) scale(0.920,1.013)" font-size="28.20" stroke="#000" stroke-width="0.72">−</text>
<text transform="translate(59.12,499.30) scale(0.995,1.018)" font-size="28.20" stroke="#000" stroke-width="0.70">6</text>
<text transform="translate(136.94,499.30) scale(0.920,1.013)" font-size="28.20" stroke="#000" stroke-width="0.72">−</text>
<text transform="translate(153.40,499.30) scale(0.945,1.022)" font-size="28.20" stroke="#000" stroke-width="0.71">3</text>
<text transform="translate(238.47,499.30) scale(1.000,1.022)" font-size="28.20" stroke="#000" stroke-width="0.69">0</text>
<text transform="translate(332.72,499.30) scale(0.945,1.022)" font-size="28.20" stroke="#000" stroke-width="0.71">3</text>
<text transform="translate(425.78,499.30) scale(0.995,1.018)" font-size="28.20" stroke="#000" stroke-width="0.70">6</text>
<text transform="translate(464.28,499.30) scale(0.920,1.013)" font-size="28.20" stroke="#000" stroke-width="0.72">−</text>
<text transform="translate(480.22,499.30) scale(0.995,1.018)" font-size="28.20" stroke="#000" stroke-width="0.70">6</text>
<text transform="translate(558.04,499.30) scale(0.920,1.013)" font-size="28.20" stroke="#000" stroke-width="0.72">−</text>
<text transform="translate(574.50,499.30) scale(0.945,1.022)" font-size="28.20" stroke="#000" stroke-width="0.71">3</text>
<text transform="translate(659.57,499.30) scale(1.000,1.022)" font-size="28.20" stroke="#000" stroke-width="0.69">0</text>
<text transform="translate(753.82,499.30) scale(0.945,1.022)" font-size="28.20" stroke="#000" stroke-width="0.71">3</text>
<text transform="translate(846.88,499.30) scale(0.995,1.018)" font-size="28.20" stroke="#000" stroke-width="0.70">6</text>
<rect x="58.90" y="509.5" width="9.10" height="9.30" fill="#000000" stroke="#000" stroke-width="1.8"/>
<rect x="68.00" y="509.5" width="9.10" height="9.30" fill="#000000" stroke="#000" stroke-width="1.8"/>
<rect x="77.10" y="509.5" width="9.10" height="9.30" fill="#000000" stroke="#000" stroke-width="1.8"/>
<rect x="86.20" y="509.5" width="9.10" height="9.30" fill="#000000" stroke="#000" stroke-width="1.8"/>
<rect x="95.30" y="509.5" width="9.10" height="9.30" fill="#000000" stroke="#000" stroke-width="1.8"/>
<rect x="104.40" y="509.5" width="9.10" height="9.30" fill="#000000" stroke="#000" stroke-width="1.8"/>
<rect x="113.50" y="509.5" width="9.10" height="9.30" fill="#000000" stroke="#000" stroke-width="1.8"/>
<rect x="122.60" y="509.5" width="9.10" height="9.30" fill="#000000" stroke="#000" stroke-width="1.8"/>
<rect x="131.70" y="509.5" width="9.10" height="9.30" fill="#000000" stroke="#000" stroke-width="1.8"/>
<rect x="140.80" y="509.5" width="9.10" height="9.30" fill="#000000" stroke="#000" stroke-width="1.8"/>
<rect x="149.90" y="509.5" width="9.10" height="9.30" fill="#101010" stroke="#000" stroke-width="1.8"/>
<rect x="159.00" y="509.5" width="9.10" height="9.30" fill="#191919" stroke="#000" stroke-width="1.8"/>
<rect x="168.10" y="509.5" width="9.10" height="9.30" fill="#222222" stroke="#000" stroke-width="1.8"/>
<rect x="177.20" y="509.5" width="9.10" height="9.30" fill="#2c2c2c" stroke="#000" stroke-width="1.8"/>
<rect x="186.30" y="509.5" width="9.10" height="9.30" fill="#353535" stroke="#000" stroke-width="1.8"/>
<rect x="195.40" y="509.5" width="9.10" height="9.30" fill="#3e3e3e" stroke="#000" stroke-width="1.8"/>
<rect x="204.50" y="509.5" width="9.10" height="9.30" fill="#474747" stroke="#000" stroke-width="1.8"/>
<rect x="213.60" y="509.5" width="9.10" height="9.30" fill="#505050" stroke="#000" stroke-width="1.8"/>
<rect x="222.70" y="509.5" width="9.10" height="9.30" fill="#5a5a5a" stroke="#000" stroke-width="1.8"/>
<rect x="231.80" y="509.5" width="9.10" height="9.30" fill="#636363" stroke="#000" stroke-width="1.8"/>
<rect x="240.90" y="509.5" width="9.10" height="9.30" fill="#6c6c6c" stroke="#000" stroke-width="1.8"/>
<rect x="250.00" y="509.5" width="9.10" height="9.30" fill="#757575" stroke="#000" stroke-width="1.8"/>
<rect x="259.10" y="509.5" width="9.10" height="9.30" fill="#7e7e7e" stroke="#000" stroke-width="1.8"/>
<rect x="268.20" y="509.5" width="9.10" height="9.30" fill="#888888" stroke="#000" stroke-width="1.8"/>
<rect x="277.30" y="509.5" width="9.10" height="9.30" fill="#919191" stroke="#000" stroke-width="1.8"/>
<rect x="286.40" y="509.5" width="9.10" height="9.30" fill="#9a9a9a" stroke="#000" stroke-width="1.8"/>
<rect x="295.50" y="509.5" width="9.10" height="9.30" fill="#a3a3a3" stroke="#000" stroke-width="1.8"/>
<rect x="304.60" y="509.5" width="9.10" height="9.30" fill="#acacac" stroke="#000" stroke-width="1.8"/>
<rect x="313.70" y="509.5" width="9.10" height="9.30" fill="#b6b6b6" stroke="#000" stroke-width="1.8"/>
<rect x="322.80" y="509.5" width="9.10" height="9.30" fill="#bfbfbf" stroke="#000" stroke-width="1.8"/>
<rect x="331.90" y="509.5" width="9.10" height="9.30" fill="#c8c8c8" stroke="#000" stroke-width="1.8"/>
<rect x="341.00" y="509.5" width="9.10" height="9.30" fill="#d1d1d1" stroke="#000" stroke-width="1.8"/>
<rect x="350.10" y="509.5" width="9.10" height="9.30" fill="#dadada" stroke="#000" stroke-width="1.8"/>
<rect x="359.20" y="509.5" width="9.10" height="9.30" fill="#e4e4e4" stroke="#000" stroke-width="1.8"/>
<rect x="368.30" y="509.5" width="9.10" height="9.30" fill="#ededed" stroke="#000" stroke-width="1.8"/>
<rect x="377.40" y="509.5" width="9.10" height="9.30" fill="#f6f6f6" stroke="#000" stroke-width="1.8"/>
<path d="M386.50,509.5 L396.10,514.15 L386.50,518.8" fill="#ffff00" stroke="#000" stroke-width="1.8" stroke-linejoin="miter"/>
<rect x="58.90" y="509.5" width="327.60" height="9.30" fill="none" stroke="#000" stroke-width="2"/>
<line x1="58.90" y1="518.8" x2="58.90" y2="533.3" stroke="#000" stroke-width="1.8"/>
<line x1="68.00" y1="518.8" x2="68.00" y2="526.3" stroke="#000" stroke-width="1.5"/>
<line x1="77.10" y1="518.8" x2="77.10" y2="526.3" stroke="#000" stroke-width="1.5"/>
<line x1="86.20" y1="518.8" x2="86.20" y2="526.3" stroke="#000" stroke-width="1.5"/>
<line x1="95.30" y1="518.8" x2="95.30" y2="526.3" stroke="#000" stroke-width="1.5"/>
<line x1="104.40" y1="518.8" x2="104.40" y2="533.3" stroke="#000" stroke-width="1.8"/>
<line x1="113.50" y1="518.8" x2="113.50" y2="526.3" stroke="#000" stroke-width="1.5"/>
<line x1="122.60" y1="518.8" x2="122.60" y2="526.3" stroke="#000" stroke-width="1.5"/>
<line x1="131.70" y1="518.8" x2="131.70" y2="526.3" stroke="#000" stroke-width="1.5"/>
<line x1="140.80" y1="518.8" x2="140.80" y2="526.3" stroke="#000" stroke-width="1.5"/>
<line x1="149.90" y1="518.8" x2="149.90" y2="533.3" stroke="#000" stroke-width="1.8"/>
<line x1="159.00" y1="518.8" x2="159.00" y2="526.3" stroke="#000" stroke-width="1.5"/>
<line x1="168.10" y1="518.8" x2="168.10" y2="526.3" stroke="#000" stroke-width="1.5"/>
<line x1="177.20" y1="518.8" x2="177.20" y2="526.3" stroke="#000" stroke-width="1.5"/>
<line x1="186.30" y1="518.8" x2="186.30" y2="526.3" stroke="#000" stroke-width="1.5"/>
<line x1="195.40" y1="518.8" x2="195.40" y2="533.3" stroke="#000" stroke-width="1.8"/>
<line x1="204.50" y1="518.8" x2="204.50" y2="526.3" stroke="#000" stroke-width="1.5"/>
<line x1="213.60" y1="518.8" x2="213.60" y2="526.3" stroke="#000" stroke-width="1.5"/>
<line x1="222.70" y1="518.8" x2="222.70" y2="526.3" stroke="#000" stroke-width="1.5"/>
<line x1="231.80" y1="518.8" x2="231.80" y2="526.3" stroke="#000" stroke-width="1.5"/>
<line x1="240.90" y1="518.8" x2="240.90" y2="533.3" stroke="#000" stroke-width="1.8"/>
<line x1="250.00" y1="518.8" x2="250.00" y2="526.3" stroke="#000" stroke-width="1.5"/>
<line x1="259.10" y1="518.8" x2="259.10" y2="526.3" stroke="#000" stroke-width="1.5"/>
<line x1="268.20" y1="518.8" x2="268.20" y2="526.3" stroke="#000" stroke-width="1.5"/>
<line x1="277.30" y1="518.8" x2="277.30" y2="526.3" stroke="#000" stroke-width="1.5"/>
<line x1="286.40" y1="518.8" x2="286.40" y2="533.3" stroke="#000" stroke-width="1.8"/>
<line x1="295.50" y1="518.8" x2="295.50" y2="526.3" stroke="#000" stroke-width="1.5"/>
<line x1="304.60" y1="518.8" x2="304.60" y2="526.3" stroke="#000" stroke-width="1.5"/>
<line x1="313.70" y1="518.8" x2="313.70" y2="526.3" stroke="#000" stroke-width="1.5"/>
<line x1="322.80" y1="518.8" x2="322.80" y2="526.3" stroke="#000" stroke-width="1.5"/>
<line x1="331.90" y1="518.8" x2="331.90" y2="533.3" stroke="#000" stroke-width="1.8"/>
<line x1="341.00" y1="518.8" x2="341.00" y2="526.3" stroke="#000" stroke-width="1.5"/>
<line x1="350.10" y1="518.8" x2="350.10" y2="526.3" stroke="#000" stroke-width="1.5"/>
<line x1="359.20" y1="518.8" x2="359.20" y2="526.3" stroke="#000" stroke-width="1.5"/>
<line x1="368.30" y1="518.8" x2="368.30" y2="526.3" stroke="#000" stroke-width="1.5"/>
<line x1="377.40" y1="518.8" x2="377.40" y2="533.3" stroke="#000" stroke-width="1.8"/>
<line x1="386.50" y1="518.8" x2="386.50" y2="526.3" stroke="#000" stroke-width="1.5"/>
<rect x="480.10" y="509.5" width="8.62" height="9.30" fill="#ccffff" stroke="#000" stroke-width="1.8"/>
<rect x="488.72" y="509.5" width="8.62" height="9.30" fill="#b3ffff" stroke="#000" stroke-width="1.8"/>
<rect x="497.34" y="509.5" width="8.62" height="9.30" fill="#99ffff" stroke="#000" stroke-width="1.8"/>
<rect x="505.96" y="509.5" width="8.62" height="9.30" fill="#80ffff" stroke="#000" stroke-width="1.8"/>
<rect x="514.58" y="509.5" width="8.62" height="9.30" fill="#6af8f8" stroke="#000" stroke-width="1.8"/>
<rect x="523.21" y="509.5" width="8.62" height="9.30" fill="#40e4f8" stroke="#000" stroke-width="1.8"/>
<rect x="531.83" y="509.5" width="8.62" height="9.30" fill="#30c4f8" stroke="#000" stroke-width="1.8"/>
<rect x="540.45" y="509.5" width="8.62" height="9.30" fill="#20acf8" stroke="#000" stroke-width="1.8"/>
<rect x="549.07" y="509.5" width="8.62" height="9.30" fill="#1594f8" stroke="#000" stroke-width="1.8"/>
<rect x="557.69" y="509.5" width="8.62" height="9.30" fill="#0a78f8" stroke="#000" stroke-width="1.8"/>
<rect x="566.31" y="509.5" width="8.62" height="9.30" fill="#0a60f8" stroke="#000" stroke-width="1.8"/>
<rect x="574.93" y="509.5" width="8.62" height="9.30" fill="#0848f8" stroke="#000" stroke-width="1.8"/>
<rect x="583.55" y="509.5" width="8.62" height="9.30" fill="#0020f8" stroke="#000" stroke-width="1.8"/>
<rect x="592.17" y="509.5" width="8.62" height="9.30" fill="#0000f0" stroke="#000" stroke-width="1.8"/>
<rect x="600.79" y="509.5" width="8.62" height="9.30" fill="#0000d0" stroke="#000" stroke-width="1.8"/>
<rect x="609.42" y="509.5" width="8.62" height="9.30" fill="#0000b0" stroke="#000" stroke-width="1.8"/>
<rect x="618.04" y="509.5" width="8.62" height="9.30" fill="#001090" stroke="#000" stroke-width="1.8"/>
<rect x="626.66" y="509.5" width="8.62" height="9.30" fill="#000070" stroke="#000" stroke-width="1.8"/>
<rect x="635.28" y="509.5" width="8.62" height="9.30" fill="#000050" stroke="#000" stroke-width="1.8"/>
<rect x="643.90" y="509.5" width="8.62" height="9.30" fill="#ff0000" stroke="#000" stroke-width="1.8"/>
<rect x="652.52" y="509.5" width="8.62" height="9.30" fill="#ff1800" stroke="#000" stroke-width="1.8"/>
<rect x="661.14" y="509.5" width="8.62" height="9.30" fill="#ff3000" stroke="#000" stroke-width="1.8"/>
<rect x="669.76" y="509.5" width="8.62" height="9.30" fill="#ff4800" stroke="#000" stroke-width="1.8"/>
<rect x="678.38" y="509.5" width="8.62" height="9.30" fill="#ff6000" stroke="#000" stroke-width="1.8"/>
<rect x="687.01" y="509.5" width="8.62" height="9.30" fill="#ff7400" stroke="#000" stroke-width="1.8"/>
<rect x="695.63" y="509.5" width="8.62" height="9.30" fill="#ff8a00" stroke="#000" stroke-width="1.8"/>
<rect x="704.25" y="509.5" width="8.62" height="9.30" fill="#ffa000" stroke="#000" stroke-width="1.8"/>
<rect x="712.87" y="509.5" width="8.62" height="9.30" fill="#ffb420" stroke="#000" stroke-width="1.8"/>
<rect x="721.49" y="509.5" width="8.62" height="9.30" fill="#ffc430" stroke="#000" stroke-width="1.8"/>
<rect x="730.11" y="509.5" width="8.62" height="9.30" fill="#ffd840" stroke="#000" stroke-width="1.8"/>
<rect x="738.73" y="509.5" width="8.62" height="9.30" fill="#ffec58" stroke="#000" stroke-width="1.8"/>
<rect x="747.35" y="509.5" width="8.62" height="9.30" fill="#fff470" stroke="#000" stroke-width="1.8"/>
<rect x="755.97" y="509.5" width="8.62" height="9.30" fill="#fff884" stroke="#000" stroke-width="1.8"/>
<rect x="764.59" y="509.5" width="8.62" height="9.30" fill="#fffa98" stroke="#000" stroke-width="1.8"/>
<rect x="773.22" y="509.5" width="8.62" height="9.30" fill="#fffcaa" stroke="#000" stroke-width="1.8"/>
<rect x="781.84" y="509.5" width="8.62" height="9.30" fill="#fffdbe" stroke="#000" stroke-width="1.8"/>
<rect x="790.46" y="509.5" width="8.62" height="9.30" fill="#fffed0" stroke="#000" stroke-width="1.8"/>
<rect x="799.08" y="509.5" width="8.62" height="9.30" fill="#fffee2" stroke="#000" stroke-width="1.8"/>
<path d="M807.70,509.5 L817.30,514.15 L807.70,518.8" fill="#fffff4" stroke="#000" stroke-width="1.8" stroke-linejoin="miter"/>
<path d="M480.10,509.5 L470.90,514.15 L480.10,518.8" fill="#e8ffff" stroke="#000" stroke-width="1.8"/>
<rect x="480.10" y="509.5" width="327.60" height="9.30" fill="none" stroke="#000" stroke-width="2"/>
<line x1="480.10" y1="518.8" x2="480.10" y2="526.3" stroke="#000" stroke-width="1.5"/>
<line x1="488.72" y1="518.8" x2="488.72" y2="526.3" stroke="#000" stroke-width="1.5"/>
<line x1="497.34" y1="518.8" x2="497.34" y2="526.3" stroke="#000" stroke-width="1.5"/>
<line x1="505.96" y1="518.8" x2="505.96" y2="533.3" stroke="#000" stroke-width="1.8"/>
<line x1="514.58" y1="518.8" x2="514.58" y2="526.3" stroke="#000" stroke-width="1.5"/>
<line x1="523.21" y1="518.8" x2="523.21" y2="526.3" stroke="#000" stroke-width="1.5"/>
<line x1="531.83" y1="518.8" x2="531.83" y2="526.3" stroke="#000" stroke-width="1.5"/>
<line x1="540.45" y1="518.8" x2="540.45" y2="526.3" stroke="#000" stroke-width="1.5"/>
<line x1="549.07" y1="518.8" x2="549.07" y2="526.3" stroke="#000" stroke-width="1.5"/>
<line x1="557.69" y1="518.8" x2="557.69" y2="526.3" stroke="#000" stroke-width="1.5"/>
<line x1="566.31" y1="518.8" x2="566.31" y2="526.3" stroke="#000" stroke-width="1.5"/>
<line x1="574.93" y1="518.8" x2="574.93" y2="533.3" stroke="#000" stroke-width="1.8"/>
<line x1="583.55" y1="518.8" x2="583.55" y2="526.3" stroke="#000" stroke-width="1.5"/>
<line x1="592.17" y1="518.8" x2="592.17" y2="526.3" stroke="#000" stroke-width="1.5"/>
<line x1="600.79" y1="518.8" x2="600.79" y2="526.3" stroke="#000" stroke-width="1.5"/>
<line x1="609.42" y1="518.8" x2="609.42" y2="526.3" stroke="#000" stroke-width="1.5"/>
<line x1="618.04" y1="518.8" x2="618.04" y2="526.3" stroke="#000" stroke-width="1.5"/>
<line x1="626.66" y1="518.8" x2="626.66" y2="526.3" stroke="#000" stroke-width="1.5"/>
<line x1="635.28" y1="518.8" x2="635.28" y2="526.3" stroke="#000" stroke-width="1.5"/>
<line x1="643.90" y1="518.8" x2="643.90" y2="533.3" stroke="#000" stroke-width="1.8"/>
<line x1="652.52" y1="518.8" x2="652.52" y2="526.3" stroke="#000" stroke-width="1.5"/>
<line x1="661.14" y1="518.8" x2="661.14" y2="526.3" stroke="#000" stroke-width="1.5"/>
<line x1="669.76" y1="518.8" x2="669.76" y2="526.3" stroke="#000" stroke-width="1.5"/>
<line x1="678.38" y1="518.8" x2="678.38" y2="526.3" stroke="#000" stroke-width="1.5"/>
<line x1="687.01" y1="518.8" x2="687.01" y2="526.3" stroke="#000" stroke-width="1.5"/>
<line x1="695.63" y1="518.8" x2="695.63" y2="526.3" stroke="#000" stroke-width="1.5"/>
<line x1="704.25" y1="518.8" x2="704.25" y2="526.3" stroke="#000" stroke-width="1.5"/>
<line x1="712.87" y1="518.8" x2="712.87" y2="533.3" stroke="#000" stroke-width="1.8"/>
<line x1="721.49" y1="518.8" x2="721.49" y2="526.3" stroke="#000" stroke-width="1.5"/>
<line x1="730.11" y1="518.8" x2="730.11" y2="526.3" stroke="#000" stroke-width="1.5"/>
<line x1="738.73" y1="518.8" x2="738.73" y2="526.3" stroke="#000" stroke-width="1.5"/>
<line x1="747.35" y1="518.8" x2="747.35" y2="526.3" stroke="#000" stroke-width="1.5"/>
<line x1="755.97" y1="518.8" x2="755.97" y2="526.3" stroke="#000" stroke-width="1.5"/>
<line x1="764.59" y1="518.8" x2="764.59" y2="526.3" stroke="#000" stroke-width="1.5"/>
<line x1="773.22" y1="518.8" x2="773.22" y2="526.3" stroke="#000" stroke-width="1.5"/>
<line x1="781.84" y1="518.8" x2="781.84" y2="533.3" stroke="#000" stroke-width="1.8"/>
<line x1="790.46" y1="518.8" x2="790.46" y2="526.3" stroke="#000" stroke-width="1.5"/>
<line x1="799.08" y1="518.8" x2="799.08" y2="526.3" stroke="#000" stroke-width="1.5"/>
<line x1="807.70" y1="518.8" x2="807.70" y2="526.3" stroke="#000" stroke-width="1.5"/>
<text transform="translate(51.07,569.80) scale(1.000,1.022)" font-size="28.20" stroke="#000" stroke-width="0.69">0</text>
<text transform="translate(84.87,569.80) scale(0.990,1.022)" font-size="28.20" stroke="#000" stroke-width="0.70">2</text>
<text transform="translate(100.49,569.80) scale(1.019,0.934)" font-size="28.20" stroke="#000" stroke-width="0.72">.</text>
<text transform="translate(109.50,569.80) scale(0.905,1.022)" font-size="28.20" stroke="#000" stroke-width="0.73">5</text>
<text transform="translate(142.79,569.80) scale(0.905,1.022)" font-size="28.20" stroke="#000" stroke-width="0.73">5</text>
<text transform="translate(175.42,569.80) scale(1.038,1.018)" font-size="28.20" stroke="#000" stroke-width="0.68">7</text>
<text transform="translate(191.67,569.80) scale(1.019,0.934)" font-size="28.20" stroke="#000" stroke-width="0.72">.</text>
<text transform="translate(200.67,569.80) scale(0.905,1.022)" font-size="28.20" stroke="#000" stroke-width="0.73">5</text>
<text transform="translate(225.26,569.80) scale(0.705,1.022)" font-size="28.20" stroke="#000" stroke-width="0.81">1</text>
<text transform="translate(240.77,569.80) scale(1.000,1.022)" font-size="28.20" stroke="#000" stroke-width="0.69">0</text>
<text transform="translate(258.83,569.80) scale(0.705,1.022)" font-size="28.20" stroke="#000" stroke-width="0.81">1</text>
<text transform="translate(274.63,569.80) scale(0.990,1.022)" font-size="28.20" stroke="#000" stroke-width="0.70">2</text>
<text transform="translate(290.26,569.80) scale(1.019,0.934)" font-size="28.20" stroke="#000" stroke-width="0.72">.</text>
<text transform="translate(299.26,569.80) scale(0.905,1.022)" font-size="28.20" stroke="#000" stroke-width="0.73">5</text>
<text transform="translate(316.40,569.80) scale(0.705,1.022)" font-size="28.20" stroke="#000" stroke-width="0.81">1</text>
<text transform="translate(332.69,569.80) scale(0.905,1.022)" font-size="28.20" stroke="#000" stroke-width="0.73">5</text>
<text transform="translate(349.83,569.80) scale(0.705,1.022)" font-size="28.20" stroke="#000" stroke-width="0.81">1</text>
<text transform="translate(365.01,569.80) scale(1.038,1.018)" font-size="28.20" stroke="#000" stroke-width="0.68">7</text>
<text transform="translate(381.26,569.80) scale(1.019,0.934)" font-size="28.20" stroke="#000" stroke-width="0.72">.</text>
<text transform="translate(390.26,569.80) scale(0.905,1.022)" font-size="28.20" stroke="#000" stroke-width="0.73">5</text>
<text transform="translate(490.23,569.80) scale(0.920,1.013)" font-size="28.20" stroke="#000" stroke-width="0.72">−</text>
<text transform="translate(506.34,569.80) scale(0.965,1.018)" font-size="28.20" stroke="#000" stroke-width="0.71">8</text>
<text transform="translate(558.91,569.80) scale(0.920,1.013)" font-size="28.20" stroke="#000" stroke-width="0.72">−</text>
<text transform="translate(575.00,569.80) scale(0.958,1.022)" font-size="28.20" stroke="#000" stroke-width="0.71">4</text>
<text transform="translate(636.07,569.80) scale(1.000,1.022)" font-size="28.20" stroke="#000" stroke-width="0.69">0</text>
<text transform="translate(705.23,569.80) scale(0.958,1.022)" font-size="28.20" stroke="#000" stroke-width="0.71">4</text>
<text transform="translate(774.24,569.80) scale(0.965,1.018)" font-size="28.20" stroke="#000" stroke-width="0.71">8</text>
</svg>
</body></html>
